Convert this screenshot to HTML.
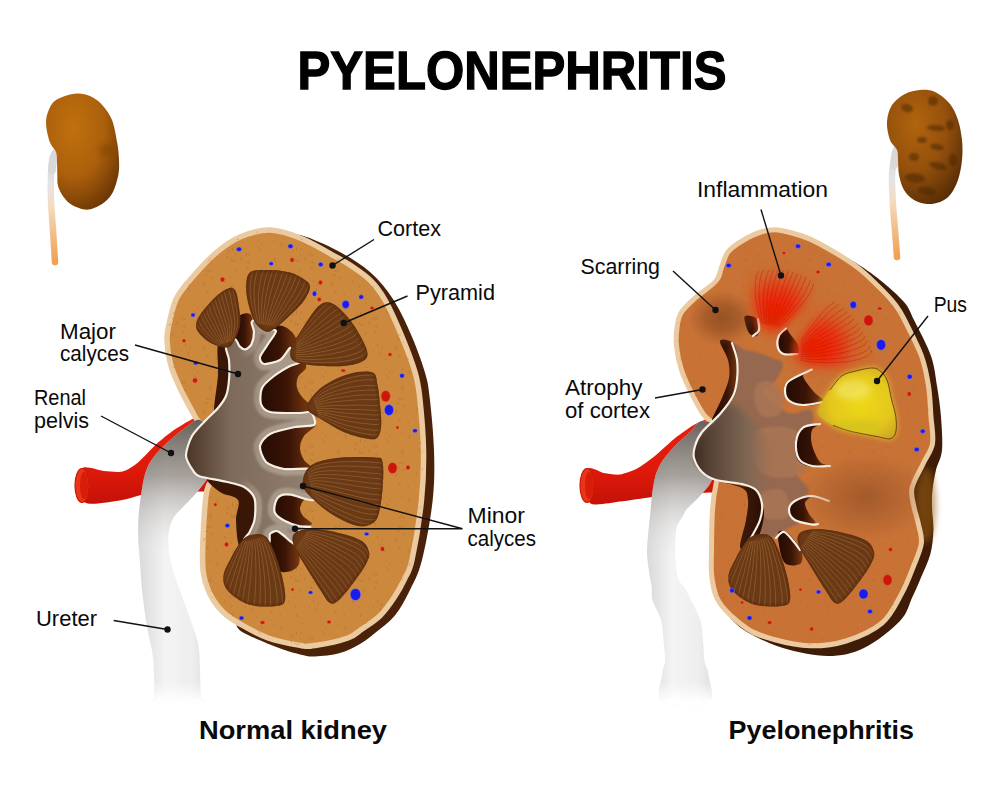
<!DOCTYPE html><html><head><meta charset="utf-8"><style>html,body{margin:0;padding:0;background:#fff}body{width:1000px;height:808px;overflow:hidden}svg{display:block}text{font-family:"Liberation Sans",sans-serif}</style></head><body>
<svg width="1000" height="808" viewBox="0 0 1000 808">
<defs>
<radialGradient id="smallk" cx="0.38" cy="0.3" r="0.75"><stop offset="0" stop-color="#c0700e"/><stop offset="0.55" stop-color="#ac600c"/><stop offset="1" stop-color="#6e3806"/></radialGradient>
<radialGradient id="smallk2" cx="0.38" cy="0.3" r="0.75"><stop offset="0" stop-color="#b0640c"/><stop offset="0.55" stop-color="#94500c"/><stop offset="1" stop-color="#5a2e06"/></radialGradient>
<linearGradient id="smallu" x1="0" y1="0" x2="0" y2="1"><stop offset="0" stop-color="#d0d0d0"/><stop offset="0.3" stop-color="#e4e4e4"/><stop offset="0.5" stop-color="#f4dcc0"/><stop offset="1" stop-color="#f0a050"/></linearGradient>
<linearGradient id="uret" x1="0" y1="0" x2="1" y2="0"><stop offset="0" stop-color="#d8d8d8"/><stop offset="0.35" stop-color="#f4f4f4"/><stop offset="0.7" stop-color="#eeeeee"/><stop offset="1" stop-color="#d6d6d6"/></linearGradient>
<linearGradient id="uretv" gradientUnits="userSpaceOnUse" x1="0" y1="420" x2="0" y2="702"><stop offset="0" stop-color="#5a5048" stop-opacity="0.9"/><stop offset="0.2" stop-color="#857d76" stop-opacity="0.68"/><stop offset="0.33" stop-color="#b4b0ac" stop-opacity="0.36"/><stop offset="0.52" stop-color="#ffffff" stop-opacity="0"/><stop offset="0.93" stop-color="#ffffff" stop-opacity="0"/><stop offset="1" stop-color="#ffffff" stop-opacity="1"/></linearGradient>
<linearGradient id="art" x1="0" y1="0" x2="0" y2="1"><stop offset="0" stop-color="#e82010"/><stop offset="0.6" stop-color="#e01a0a"/><stop offset="1" stop-color="#c41208"/></linearGradient>
<linearGradient id="tree" x1="0" y1="0" x2="1" y2="0"><stop offset="0" stop-color="#4a3426"/><stop offset="0.35" stop-color="#7e6a5a"/><stop offset="1" stop-color="#938070"/></linearGradient>
<linearGradient id="treeR" x1="0" y1="0" x2="1" y2="0"><stop offset="0" stop-color="#4a3020"/><stop offset="0.3" stop-color="#8a5a3a"/><stop offset="1" stop-color="#b06a3c"/></linearGradient>
<linearGradient id="sin" x1="0" y1="0" x2="1" y2="0"><stop offset="0" stop-color="#220a02"/><stop offset="0.55" stop-color="#3a1406"/><stop offset="1" stop-color="#7a3a12"/></linearGradient>
<radialGradient id="infl" cx="0.5" cy="0.5" r="0.5"><stop offset="0" stop-color="#f02a08"/><stop offset="0.55" stop-color="#ec3410" stop-opacity="0.9"/><stop offset="1" stop-color="#d85a20" stop-opacity="0"/></radialGradient>
<radialGradient id="scar" cx="0.5" cy="0.5" r="0.5"><stop offset="0" stop-color="#8a4a20" stop-opacity="0.8"/><stop offset="0.5" stop-color="#8e4c20" stop-opacity="0.55"/><stop offset="1" stop-color="#9a5424" stop-opacity="0"/></radialGradient>
<radialGradient id="atro" cx="0.5" cy="0.5" r="0.5"><stop offset="0" stop-color="#9a5428" stop-opacity="0.8"/><stop offset="1" stop-color="#9a5428" stop-opacity="0"/></radialGradient>
<radialGradient id="pus" cx="0.55" cy="0.5" r="0.65"><stop offset="0" stop-color="#eed818"/><stop offset="0.6" stop-color="#e4c81c"/><stop offset="1" stop-color="#c8a028"/></radialGradient>
<linearGradient id="redge" x1="0" y1="0" x2="1" y2="0"><stop offset="0" stop-color="#3a1a08"/><stop offset="0.6" stop-color="#6a3a10"/><stop offset="1" stop-color="#3a1a06"/></linearGradient>
<filter id="blur3" x="-50%" y="-50%" width="200%" height="200%"><feGaussianBlur stdDeviation="3"/></filter>
<filter id="blur6" x="-50%" y="-50%" width="200%" height="200%"><feGaussianBlur stdDeviation="6"/></filter>
<filter id="blur1" x="-20%" y="-20%" width="140%" height="140%"><feGaussianBlur stdDeviation="1"/></filter>
<linearGradient id="pelR" x1="0" y1="0" x2="1" y2="0"><stop offset="0" stop-color="#34261c"/><stop offset="0.35" stop-color="#5e4a3c"/><stop offset="0.7" stop-color="#7e6654"/><stop offset="1" stop-color="#8a6c56" stop-opacity="0"/></linearGradient>
<linearGradient id="sinv" x1="0" y1="0" x2="1" y2="0"><stop offset="0" stop-color="#5a2a0c"/><stop offset="1" stop-color="#2a0e04"/></linearGradient>
<linearGradient id="band" gradientUnits="userSpaceOnUse" x1="190" y1="0" x2="330" y2="0"><stop offset="0" stop-color="#a89888" stop-opacity="0"/><stop offset="0.35" stop-color="#a89888" stop-opacity="0"/><stop offset="0.5" stop-color="#a99a8a" stop-opacity="0.9"/><stop offset="1" stop-color="#ab9c8c" stop-opacity="1"/></linearGradient>
<pattern id="speck" patternUnits="userSpaceOnUse" width="64" height="64"><g stroke="#8a4e1c" stroke-width="0.8" stroke-linecap="round" opacity="0.35"><line x1="15.2" y1="34.8" x2="16.1" y2="36.8"/><line x1="40.0" y1="4.2" x2="42.6" y2="4.3"/><line x1="16.6" y1="15.0" x2="14.6" y2="15.0"/><line x1="53.5" y1="30.5" x2="52.9" y2="31.8"/><line x1="40.6" y1="55.6" x2="40.5" y2="57.9"/><line x1="43.0" y1="4.1" x2="41.4" y2="5.6"/><line x1="19.3" y1="2.0" x2="17.5" y2="2.8"/><line x1="46.0" y1="56.2" x2="44.3" y2="58.3"/><line x1="25.3" y1="51.3" x2="25.7" y2="53.9"/><line x1="56.2" y1="6.2" x2="57.7" y2="6.9"/><line x1="61.8" y1="27.9" x2="61.1" y2="29.5"/><line x1="32.5" y1="24.7" x2="33.4" y2="26.6"/><line x1="37.4" y1="57.9" x2="35.9" y2="60.1"/><line x1="54.8" y1="63.4" x2="54.1" y2="64.7"/><line x1="55.1" y1="61.7" x2="53.1" y2="62.4"/><line x1="45.7" y1="13.5" x2="43.9" y2="14.6"/><line x1="18.2" y1="4.1" x2="15.7" y2="5.3"/><line x1="5.7" y1="51.2" x2="6.1" y2="52.6"/><line x1="18.8" y1="49.2" x2="17.6" y2="49.7"/><line x1="39.3" y1="2.9" x2="38.2" y2="4.2"/><line x1="56.4" y1="62.8" x2="56.3" y2="65.6"/><line x1="19.8" y1="4.9" x2="19.4" y2="6.1"/><line x1="12.6" y1="26.1" x2="12.1" y2="27.5"/><line x1="2.7" y1="55.5" x2="4.2" y2="57.8"/><line x1="57.4" y1="24.2" x2="57.6" y2="26.2"/><line x1="41.2" y1="38.1" x2="40.8" y2="40.3"/><line x1="60.2" y1="32.4" x2="60.7" y2="34.7"/><line x1="15.2" y1="19.3" x2="13.2" y2="19.4"/><line x1="35.1" y1="0.7" x2="35.7" y2="2.8"/><line x1="1.3" y1="39.4" x2="0.8" y2="40.6"/><line x1="40.1" y1="29.8" x2="39.2" y2="31.3"/><line x1="45.2" y1="47.2" x2="46.5" y2="47.3"/><line x1="43.3" y1="61.7" x2="44.6" y2="63.0"/><line x1="37.9" y1="20.5" x2="38.6" y2="22.0"/><line x1="23.6" y1="38.1" x2="24.7" y2="39.6"/><line x1="49.4" y1="1.7" x2="48.9" y2="4.0"/><line x1="19.8" y1="14.2" x2="18.6" y2="15.2"/><line x1="12.0" y1="27.9" x2="11.2" y2="29.0"/><line x1="20.6" y1="21.4" x2="19.0" y2="22.3"/><line x1="54.8" y1="10.8" x2="55.9" y2="12.8"/></g></pattern>
</defs>
<text x="297.5" y="88.8" font-size="54.5" font-weight="bold" fill="#000" stroke="#000" stroke-width="1.3" textLength="429" lengthAdjust="spacingAndGlyphs">PYELONEPHRITIS</text>
<path d="M58.0,150.0 C57.2,151.3 54.2,153.8 53.0,158.0 C51.8,162.2 51.3,168.0 51.0,175.0 C50.7,182.0 50.7,190.8 51.0,200.0 C51.3,209.2 52.3,219.7 53.0,230.0 C53.7,240.3 54.7,256.7 55.0,262.0" stroke="url(#smallu)" stroke-width="6.5" fill="none" stroke-linecap="round"/>
<path d="M60.0,148.0 C59.0,149.3 55.3,152.3 54.0,156.0 C52.7,159.7 52.3,167.7 52.0,170.0" stroke="#d8d8d8" stroke-width="8" fill="none" stroke-linecap="round"/>
<path d="M74.8,93.7 C80.5,93.0 85.4,94.1 90.0,96.0 C94.6,97.9 98.5,100.9 102.2,104.9 C105.9,108.9 109.5,113.8 112.0,120.0 C114.5,126.2 115.9,135.6 117.1,142.3 C118.3,149.0 118.8,154.6 119.0,160.0 C119.2,165.4 119.4,169.3 118.4,174.6 C117.4,179.9 115.3,187.4 113.0,192.0 C110.7,196.6 107.9,199.3 104.7,202.0 C101.5,204.7 97.3,206.8 94.0,208.0 C90.7,209.2 88.4,210.0 84.7,209.5 C81.0,209.0 75.5,207.1 72.0,205.0 C68.5,202.9 65.9,200.2 63.6,197.0 C61.3,193.8 59.0,189.7 58.0,186.0 C57.0,182.3 57.5,178.6 57.3,174.6 C57.1,170.6 57.2,165.7 57.0,162.0 C56.8,158.3 57.3,155.5 56.1,152.2 C54.9,148.9 51.6,146.9 49.9,142.3 C48.2,137.7 46.4,129.8 46.1,124.8 C45.8,119.8 46.4,116.1 48.0,112.0 C49.6,107.9 51.5,103.0 56.0,100.0 C60.5,97.0 69.1,94.4 74.8,93.7Z" fill="url(#smallk)"/>
<ellipse cx="106" cy="150" rx="8" ry="6" fill="#6a3606" opacity="0.35" filter="url(#blur3)"/>
<path d="M900.0,145.0 C899.2,146.7 896.3,150.0 895.0,155.0 C893.7,160.0 892.3,166.7 892.0,175.0 C891.7,183.3 892.5,195.8 893.0,205.0 C893.5,214.2 894.3,221.3 895.0,230.0 C895.7,238.7 896.7,252.5 897.0,257.0" stroke="url(#smallu)" stroke-width="6.5" fill="none" stroke-linecap="round"/>
<path d="M902.0,143.0 C901.0,144.5 897.3,148.3 896.0,152.0 C894.7,155.7 894.3,162.8 894.0,165.0" stroke="#d8d8d8" stroke-width="8" fill="none" stroke-linecap="round"/>
<path d="M920.0,90.0 C925.0,89.7 930.0,89.7 935.0,92.0 C940.0,94.3 946.2,99.3 950.0,104.0 C953.8,108.7 956.0,114.0 958.0,120.0 C960.0,126.0 961.3,133.3 962.0,140.0 C962.7,146.7 962.7,153.3 962.0,160.0 C961.3,166.7 960.0,174.2 958.0,180.0 C956.0,185.8 953.0,191.3 950.0,195.0 C947.0,198.7 943.8,200.5 940.0,202.0 C936.2,203.5 931.3,204.3 927.0,204.0 C922.7,203.7 917.8,202.3 914.0,200.0 C910.2,197.7 906.5,194.2 904.0,190.0 C901.5,185.8 900.0,180.0 899.0,175.0 C898.0,170.0 898.3,164.2 898.0,160.0 C897.7,155.8 898.3,153.3 897.0,150.0 C895.7,146.7 891.7,144.7 890.0,140.0 C888.3,135.3 886.7,127.8 887.0,122.0 C887.3,116.2 889.0,109.7 892.0,105.0 C895.0,100.3 900.3,96.5 905.0,94.0 C909.7,91.5 915.0,90.3 920.0,90.0Z" fill="url(#smallk2)"/>
<g filter="url(#blur1)">
<ellipse cx="933" cy="101" rx="5" ry="4.5" transform="rotate(0 933 101)" fill="#4a2406" opacity="0.55"/>
<ellipse cx="907" cy="108" rx="6" ry="4" transform="rotate(20 907 108)" fill="#4a2406" opacity="0.55"/>
<ellipse cx="936" cy="128" rx="9" ry="3" transform="rotate(5 936 128)" fill="#4a2406" opacity="0.55"/>
<ellipse cx="937" cy="147" rx="7" ry="3" transform="rotate(10 937 147)" fill="#4a2406" opacity="0.55"/>
<ellipse cx="914" cy="157" rx="5" ry="4" transform="rotate(0 914 157)" fill="#4a2406" opacity="0.55"/>
<ellipse cx="938" cy="166" rx="9" ry="3.5" transform="rotate(15 938 166)" fill="#4a2406" opacity="0.55"/>
<ellipse cx="915" cy="178" rx="10" ry="4.5" transform="rotate(5 915 178)" fill="#4a2406" opacity="0.55"/>
<ellipse cx="927" cy="191" rx="9" ry="4" transform="rotate(10 927 191)" fill="#4a2406" opacity="0.55"/>
<ellipse cx="953" cy="160" rx="4" ry="6" transform="rotate(0 953 160)" fill="#4a2406" opacity="0.55"/>
<ellipse cx="950" cy="125" rx="4" ry="5" transform="rotate(0 950 125)" fill="#4a2406" opacity="0.55"/>
<ellipse cx="922" cy="140" rx="5" ry="3" transform="rotate(0 922 140)" fill="#4a2406" opacity="0.55"/>
</g>
<path d="M82.0,468.5 C84.2,464.8 99.3,470.6 104.0,471.0 C108.7,471.4 118.5,472.5 122.5,471.5 C126.5,470.5 134.1,465.6 138.0,462.4 C141.9,459.2 151.8,448.2 156.0,444.4 C160.2,440.6 169.8,432.9 174.0,430.0 C178.2,427.1 187.6,421.4 192.0,419.2 C196.4,417.0 208.3,410.3 212.0,411.0 C215.7,411.7 222.8,415.8 224.0,425.0 C225.2,434.2 224.2,482.2 222.0,490.0 C219.8,497.8 211.1,491.4 205.0,491.5 C198.9,491.6 177.0,490.7 170.0,491.0 C163.0,491.3 150.6,492.9 145.0,494.0 C139.4,495.1 129.0,499.0 122.0,500.0 C115.0,501.0 89.7,506.2 85.0,502.5 C80.3,498.8 79.8,472.2 82.0,468.5Z" fill="url(#art)"/>
<ellipse cx="82" cy="485.5" rx="7" ry="17" fill="#e83418" stroke="#d01808" stroke-width="1.2"/>
<ellipse cx="84" cy="485.5" rx="4" ry="13.5" fill="#d81c0a"/>
<path d="M285.0,236.0 C287.8,235.9 293.2,233.0 302.0,235.5 C310.8,238.0 326.7,244.9 338.0,251.0 C349.3,257.1 360.7,263.8 370.0,272.0 C379.3,280.2 386.7,289.3 393.6,300.0 C400.5,310.7 406.4,324.0 411.6,336.0 C416.8,348.0 421.8,361.8 424.8,372.0 C427.8,382.2 428.1,384.0 429.6,397.0 C431.1,410.0 433.5,432.8 434.0,450.0 C434.5,467.2 434.7,481.7 432.7,500.0 C430.7,518.3 425.9,544.8 422.0,560.0 C418.1,575.2 414.1,581.7 409.5,591.0 C404.9,600.3 400.4,608.7 394.7,615.7 C388.9,622.7 380.8,628.3 375.0,633.0 C369.2,637.7 365.8,640.7 360.0,644.0 C354.2,647.3 347.5,650.9 340.0,653.0 C332.5,655.1 321.7,656.2 315.0,656.4 C308.3,656.6 306.0,655.8 300.0,654.4 C294.0,653.0 288.5,651.7 279.0,648.0 C269.5,644.3 250.2,636.4 243.0,632.4 C235.8,628.4 237.2,625.4 236.0,624.0 L300,400Z" fill="#4a220a"/>
<path d="M270.0,230.0 C280.3,230.3 290.7,234.0 302.0,238.7 C313.3,243.4 330.0,253.6 338.0,258.0 C346.0,262.4 344.7,261.3 350.0,265.0 C355.3,268.7 364.2,274.2 370.0,280.0 C375.8,285.8 379.7,290.7 385.0,300.0 C390.3,309.3 396.7,324.0 401.7,336.0 C406.7,348.0 412.0,361.8 415.0,372.0 C418.0,382.2 418.3,384.0 419.7,397.0 C421.1,410.0 423.2,432.8 423.5,450.0 C423.8,467.2 423.4,481.7 421.5,500.0 C419.6,518.3 414.9,546.7 412.0,560.0 C409.1,573.3 406.9,573.8 404.0,580.0 C401.1,586.2 398.5,591.0 394.5,597.0 C390.5,603.0 385.4,610.4 380.0,615.7 C374.6,621.0 367.3,625.3 362.0,629.0 C356.7,632.7 355.8,635.2 348.0,638.0 C340.2,640.8 323.0,644.3 315.0,645.5 C307.0,646.7 307.8,646.6 300.0,645.4 C292.2,644.1 278.0,641.6 268.0,638.0 C258.0,634.4 247.5,628.3 240.0,624.0 C232.5,619.7 228.0,617.0 223.0,612.0 C218.0,607.0 213.3,601.0 210.0,594.0 C206.7,587.0 204.1,581.0 203.0,570.0 C201.9,559.0 202.8,541.3 203.5,528.0 C204.2,514.7 204.9,499.7 207.0,490.0 C209.1,480.3 214.8,478.3 216.0,470.0 C217.2,461.7 217.0,448.2 214.0,440.0 C211.0,431.8 201.6,425.7 198.0,421.0 C194.4,416.3 195.6,417.5 192.6,412.0 C189.6,406.5 183.7,396.0 180.0,388.0 C176.3,380.0 172.7,372.0 170.5,364.0 C168.3,356.0 167.2,347.0 167.0,340.0 C166.8,333.0 167.9,329.0 169.5,322.0 C171.1,315.0 172.7,305.7 176.7,298.0 C180.7,290.3 186.8,283.7 193.5,276.0 C200.2,268.3 209.2,258.5 217.0,252.0 C224.8,245.5 231.2,240.7 240.0,237.0 C248.8,233.3 259.7,229.7 270.0,230.0Z" fill="#cc883c" stroke="#eccaa0" stroke-width="5.5"/>
<path d="M270.0,230.0 C280.3,230.3 290.7,234.0 302.0,238.7 C313.3,243.4 330.0,253.6 338.0,258.0 C346.0,262.4 344.7,261.3 350.0,265.0 C355.3,268.7 364.2,274.2 370.0,280.0 C375.8,285.8 379.7,290.7 385.0,300.0 C390.3,309.3 396.7,324.0 401.7,336.0 C406.7,348.0 412.0,361.8 415.0,372.0 C418.0,382.2 418.3,384.0 419.7,397.0 C421.1,410.0 423.2,432.8 423.5,450.0 C423.8,467.2 423.4,481.7 421.5,500.0 C419.6,518.3 414.9,546.7 412.0,560.0 C409.1,573.3 406.9,573.8 404.0,580.0 C401.1,586.2 398.5,591.0 394.5,597.0 C390.5,603.0 385.4,610.4 380.0,615.7 C374.6,621.0 367.3,625.3 362.0,629.0 C356.7,632.7 355.8,635.2 348.0,638.0 C340.2,640.8 323.0,644.3 315.0,645.5 C307.0,646.7 307.8,646.6 300.0,645.4 C292.2,644.1 278.0,641.6 268.0,638.0 C258.0,634.4 247.5,628.3 240.0,624.0 C232.5,619.7 228.0,617.0 223.0,612.0 C218.0,607.0 213.3,601.0 210.0,594.0 C206.7,587.0 204.1,581.0 203.0,570.0 C201.9,559.0 202.8,541.3 203.5,528.0 C204.2,514.7 204.9,499.7 207.0,490.0 C209.1,480.3 214.8,478.3 216.0,470.0 C217.2,461.7 217.0,448.2 214.0,440.0 C211.0,431.8 201.6,425.7 198.0,421.0 C194.4,416.3 195.6,417.5 192.6,412.0 C189.6,406.5 183.7,396.0 180.0,388.0 C176.3,380.0 172.7,372.0 170.5,364.0 C168.3,356.0 167.2,347.0 167.0,340.0 C166.8,333.0 167.9,329.0 169.5,322.0 C171.1,315.0 172.7,305.7 176.7,298.0 C180.7,290.3 186.8,283.7 193.5,276.0 C200.2,268.3 209.2,258.5 217.0,252.0 C224.8,245.5 231.2,240.7 240.0,237.0 C248.8,233.3 259.7,229.7 270.0,230.0Z" fill="url(#speck)"/>
<path d="M185.0,428.0 C180.2,431.3 172.3,438.1 168.0,442.0 C163.7,445.9 159.1,450.2 156.0,454.0 C152.9,457.8 149.6,462.5 147.6,467.0 C145.6,471.5 144.1,476.9 142.8,484.0 C141.5,491.1 139.5,505.9 138.8,514.0 C138.1,522.1 138.0,530.8 138.2,538.0 C138.4,545.2 139.4,554.2 140.0,562.0 C140.6,569.8 140.9,580.2 142.0,590.0 C143.1,599.8 145.3,617.0 147.0,627.0 C148.7,637.0 151.9,647.0 153.0,657.0 C154.1,667.0 154.3,687.2 154.6,694.0 C154.9,700.8 148.1,700.8 155.0,702.0 C161.9,703.2 193.8,703.2 200.6,702.0 C207.4,700.8 200.8,702.0 200.6,694.0 C200.4,686.0 200.1,659.0 199.0,649.0 C197.9,639.0 195.9,635.9 193.0,627.0 C190.1,618.1 182.9,598.9 179.8,590.0 C176.7,581.1 174.1,574.0 172.4,568.0 C170.8,562.0 169.3,555.4 168.8,550.0 C168.3,544.6 168.1,536.9 168.8,532.0 C169.5,527.1 171.3,521.6 173.6,517.6 C175.9,513.6 180.6,509.7 184.4,505.6 C188.2,501.5 194.7,495.3 198.8,490.0 C202.9,484.7 209.6,477.5 212.0,470.0 C214.4,462.5 216.8,447.5 215.0,440.0 C213.2,432.5 204.5,421.8 200.0,420.0 C195.5,418.2 189.8,424.7 185.0,428.0Z" fill="url(#uret)"/><path d="M185.0,428.0 C180.2,431.3 172.3,438.1 168.0,442.0 C163.7,445.9 159.1,450.2 156.0,454.0 C152.9,457.8 149.6,462.5 147.6,467.0 C145.6,471.5 144.1,476.9 142.8,484.0 C141.5,491.1 139.5,505.9 138.8,514.0 C138.1,522.1 138.0,530.8 138.2,538.0 C138.4,545.2 139.4,554.2 140.0,562.0 C140.6,569.8 140.9,580.2 142.0,590.0 C143.1,599.8 145.3,617.0 147.0,627.0 C148.7,637.0 151.9,647.0 153.0,657.0 C154.1,667.0 154.3,687.2 154.6,694.0 C154.9,700.8 148.1,700.8 155.0,702.0 C161.9,703.2 193.8,703.2 200.6,702.0 C207.4,700.8 200.8,702.0 200.6,694.0 C200.4,686.0 200.1,659.0 199.0,649.0 C197.9,639.0 195.9,635.9 193.0,627.0 C190.1,618.1 182.9,598.9 179.8,590.0 C176.7,581.1 174.1,574.0 172.4,568.0 C170.8,562.0 169.3,555.4 168.8,550.0 C168.3,544.6 168.1,536.9 168.8,532.0 C169.5,527.1 171.3,521.6 173.6,517.6 C175.9,513.6 180.6,509.7 184.4,505.6 C188.2,501.5 194.7,495.3 198.8,490.0 C202.9,484.7 209.6,477.5 212.0,470.0 C214.4,462.5 216.8,447.5 215.0,440.0 C213.2,432.5 204.5,421.8 200.0,420.0 C195.5,418.2 189.8,424.7 185.0,428.0Z" fill="url(#uretv)"/>
<path d="M218.0,345.0 C219.7,340.2 226.2,336.8 228.0,346.0 C229.8,355.2 230.7,388.0 229.0,400.0 C227.3,412.0 220.5,416.3 218.0,418.0 C215.5,419.7 214.0,417.2 214.0,410.0 C214.0,402.8 217.3,385.8 218.0,375.0 C218.7,364.2 216.3,349.8 218.0,345.0Z" fill="#3a1606"/>
<path d="M208.0,478.0 C213.0,477.0 241.7,480.7 250.0,486.0 C258.3,491.3 257.3,500.2 258.0,510.0 C258.7,519.8 257.0,538.7 254.0,545.0 C251.0,551.3 243.0,552.2 240.0,548.0 C237.0,543.8 236.3,528.0 236.0,520.0 C235.7,512.0 240.7,504.7 238.0,500.0 C235.3,495.3 225.0,495.7 220.0,492.0 C215.0,488.3 203.0,479.0 208.0,478.0Z" fill="#3a1606"/>
<path d="M236.0,318.0 C238.8,314.7 247.0,311.7 250.0,314.0 C253.0,316.3 253.8,326.0 254.0,332.0 C254.2,338.0 253.3,347.0 251.0,350.0 C248.7,353.0 243.0,352.7 240.0,350.0 C237.0,347.3 233.7,339.3 233.0,334.0 C232.3,328.7 233.2,321.3 236.0,318.0Z" fill="url(#sin)"/>
<path d="M276.0,326.0 C281.0,323.8 288.3,328.0 292.0,332.0 C295.7,336.0 299.7,344.3 298.0,350.0 C296.3,355.7 288.7,364.0 282.0,366.0 C275.3,368.0 261.3,365.5 258.0,362.0 C254.7,358.5 259.0,351.0 262.0,345.0 C265.0,339.0 271.0,328.2 276.0,326.0Z" fill="url(#sin)"/>
<path d="M302.0,362.0 C297.7,362.5 286.7,367.0 280.0,371.0 C273.3,375.0 265.8,380.8 262.0,386.0 C258.2,391.2 256.3,397.3 257.0,402.0 C257.7,406.7 258.8,411.7 266.0,414.0 C273.2,416.3 292.7,417.3 300.0,416.0 C307.3,414.7 309.5,409.0 310.0,406.0 C310.5,403.0 305.2,401.0 303.0,398.0 C300.8,395.0 297.8,391.5 297.0,388.0 C296.2,384.5 296.5,380.3 298.0,377.0 C299.5,373.7 305.3,370.5 306.0,368.0 C306.7,365.5 306.3,361.5 302.0,362.0Z" fill="url(#sin)"/>
<path d="M316.0,424.0 C313.7,422.0 298.3,422.7 290.0,424.0 C281.7,425.3 271.7,428.0 266.0,432.0 C260.3,436.0 256.3,442.7 256.0,448.0 C255.7,453.3 259.3,460.2 264.0,464.0 C268.7,467.8 275.7,469.8 284.0,471.0 C292.3,472.2 310.7,472.8 314.0,471.0 C317.3,469.2 306.3,463.8 304.0,460.0 C301.7,456.2 300.0,452.0 300.0,448.0 C300.0,444.0 301.3,440.0 304.0,436.0 C306.7,432.0 318.3,426.0 316.0,424.0Z" fill="url(#sin)"/>
<path d="M312.0,494.0 C309.7,492.8 296.3,491.7 290.0,493.0 C283.7,494.3 277.3,498.5 274.0,502.0 C270.7,505.5 269.0,510.3 270.0,514.0 C271.0,517.7 275.3,522.0 280.0,524.0 C284.7,526.0 292.7,526.0 298.0,526.0 C303.3,526.0 311.2,525.7 312.0,524.0 C312.8,522.3 305.0,518.7 303.0,516.0 C301.0,513.3 299.8,510.7 300.0,508.0 C300.2,505.3 302.0,502.3 304.0,500.0 C306.0,497.7 314.3,495.2 312.0,494.0Z" fill="url(#sin)"/>
<path d="M268.0,540.0 C269.3,534.7 272.7,529.3 276.0,528.0 C279.3,526.7 284.3,528.7 288.0,532.0 C291.7,535.3 296.3,542.3 298.0,548.0 C299.7,553.7 300.7,562.0 298.0,566.0 C295.3,570.0 287.0,573.0 282.0,572.0 C277.0,571.0 270.3,565.3 268.0,560.0 C265.7,554.7 266.7,545.3 268.0,540.0Z" fill="url(#sin)"/>
<clipPath id="treeclipL"><path d="M226.0,347.0 C226.8,344.2 233.0,339.1 234.8,339.0 C236.6,338.9 238.2,345.0 239.6,346.4 C241.0,347.8 244.0,349.7 245.6,349.4 C247.2,349.1 250.5,346.3 251.6,344.0 C252.7,341.7 254.0,334.9 254.0,332.0 C254.0,329.1 251.3,324.0 251.6,322.4 C251.9,320.8 254.2,319.3 256.0,320.0 C257.8,320.7 262.3,326.5 265.0,328.0 C267.7,329.5 275.6,328.9 276.0,331.0 C276.4,333.1 270.1,340.5 268.0,344.0 C265.9,347.5 260.5,354.3 260.0,357.0 C259.5,359.7 261.3,363.6 264.0,364.0 C266.7,364.4 276.5,362.1 280.0,360.0 C283.5,357.9 288.1,349.1 290.0,348.0 C291.9,346.9 292.7,350.1 294.0,352.0 C295.3,353.9 300.5,360.1 300.0,362.0 C299.5,363.9 293.5,364.1 290.0,366.0 C286.5,367.9 277.7,373.1 274.0,376.0 C270.3,378.9 263.7,384.3 262.0,388.0 C260.3,391.7 259.9,400.8 261.0,404.0 C262.1,407.2 264.8,410.8 270.0,412.0 C275.2,413.2 294.7,413.0 300.0,413.0 C305.3,413.0 308.1,411.3 310.0,412.0 C311.9,412.7 313.5,416.3 314.0,418.0 C314.5,419.7 316.5,423.8 314.0,425.0 C311.5,426.2 300.9,425.8 295.0,427.0 C289.1,428.2 274.7,431.5 270.0,434.0 C265.3,436.5 260.5,442.3 260.0,446.0 C259.5,449.7 262.8,458.9 266.0,462.0 C269.2,465.1 277.9,468.1 284.0,469.0 C290.1,469.9 308.5,467.5 312.0,469.0 C315.5,470.5 309.7,475.9 310.0,480.0 C310.3,484.1 316.5,498.0 314.0,500.0 C311.5,502.0 295.5,495.3 291.0,494.7 C286.5,494.1 282.7,494.4 280.6,495.4 C278.5,496.4 276.1,500.2 275.4,502.5 C274.7,504.8 273.8,510.6 275.0,513.0 C276.2,515.4 281.3,519.0 284.5,520.7 C287.7,522.4 295.3,525.2 298.8,526.0 C302.3,526.8 310.5,526.3 310.5,527.0 C310.5,527.7 300.9,528.7 299.0,531.0 C297.1,533.3 297.2,542.7 296.0,544.0 C294.8,545.3 291.7,542.2 290.0,541.0 C288.3,539.8 284.8,536.3 283.0,535.0 C281.2,533.7 278.4,531.1 276.7,531.0 C275.0,530.9 271.0,532.4 270.0,534.0 C269.0,535.6 270.6,542.1 269.0,543.0 C267.4,543.9 261.3,541.4 258.0,541.0 C254.7,540.6 245.3,541.1 244.2,540.0 C243.1,538.9 248.0,535.1 249.4,532.4 C250.8,529.7 253.9,523.9 254.6,519.4 C255.3,514.9 256.0,502.9 254.6,498.6 C253.2,494.3 248.0,489.3 244.2,487.0 C240.4,484.7 231.9,483.1 226.0,481.7 C220.1,480.3 204.3,477.8 200.0,476.5 C195.7,475.2 195.9,474.7 194.0,472.0 C192.1,469.3 186.3,460.8 186.0,456.0 C185.7,451.2 189.3,440.8 192.0,436.0 C194.7,431.2 202.5,423.7 206.0,420.0 C209.5,416.3 215.3,411.2 218.0,408.0 C220.7,404.8 224.5,399.7 226.0,396.0 C227.5,392.3 228.6,384.8 229.0,380.0 C229.4,375.2 229.4,364.4 229.0,360.0 C228.6,355.6 225.2,349.8 226.0,347.0Z"/></clipPath>
<path d="M226.0,347.0 C226.8,344.2 233.0,339.1 234.8,339.0 C236.6,338.9 238.2,345.0 239.6,346.4 C241.0,347.8 244.0,349.7 245.6,349.4 C247.2,349.1 250.5,346.3 251.6,344.0 C252.7,341.7 254.0,334.9 254.0,332.0 C254.0,329.1 251.3,324.0 251.6,322.4 C251.9,320.8 254.2,319.3 256.0,320.0 C257.8,320.7 262.3,326.5 265.0,328.0 C267.7,329.5 275.6,328.9 276.0,331.0 C276.4,333.1 270.1,340.5 268.0,344.0 C265.9,347.5 260.5,354.3 260.0,357.0 C259.5,359.7 261.3,363.6 264.0,364.0 C266.7,364.4 276.5,362.1 280.0,360.0 C283.5,357.9 288.1,349.1 290.0,348.0 C291.9,346.9 292.7,350.1 294.0,352.0 C295.3,353.9 300.5,360.1 300.0,362.0 C299.5,363.9 293.5,364.1 290.0,366.0 C286.5,367.9 277.7,373.1 274.0,376.0 C270.3,378.9 263.7,384.3 262.0,388.0 C260.3,391.7 259.9,400.8 261.0,404.0 C262.1,407.2 264.8,410.8 270.0,412.0 C275.2,413.2 294.7,413.0 300.0,413.0 C305.3,413.0 308.1,411.3 310.0,412.0 C311.9,412.7 313.5,416.3 314.0,418.0 C314.5,419.7 316.5,423.8 314.0,425.0 C311.5,426.2 300.9,425.8 295.0,427.0 C289.1,428.2 274.7,431.5 270.0,434.0 C265.3,436.5 260.5,442.3 260.0,446.0 C259.5,449.7 262.8,458.9 266.0,462.0 C269.2,465.1 277.9,468.1 284.0,469.0 C290.1,469.9 308.5,467.5 312.0,469.0 C315.5,470.5 309.7,475.9 310.0,480.0 C310.3,484.1 316.5,498.0 314.0,500.0 C311.5,502.0 295.5,495.3 291.0,494.7 C286.5,494.1 282.7,494.4 280.6,495.4 C278.5,496.4 276.1,500.2 275.4,502.5 C274.7,504.8 273.8,510.6 275.0,513.0 C276.2,515.4 281.3,519.0 284.5,520.7 C287.7,522.4 295.3,525.2 298.8,526.0 C302.3,526.8 310.5,526.3 310.5,527.0 C310.5,527.7 300.9,528.7 299.0,531.0 C297.1,533.3 297.2,542.7 296.0,544.0 C294.8,545.3 291.7,542.2 290.0,541.0 C288.3,539.8 284.8,536.3 283.0,535.0 C281.2,533.7 278.4,531.1 276.7,531.0 C275.0,530.9 271.0,532.4 270.0,534.0 C269.0,535.6 270.6,542.1 269.0,543.0 C267.4,543.9 261.3,541.4 258.0,541.0 C254.7,540.6 245.3,541.1 244.2,540.0 C243.1,538.9 248.0,535.1 249.4,532.4 C250.8,529.7 253.9,523.9 254.6,519.4 C255.3,514.9 256.0,502.9 254.6,498.6 C253.2,494.3 248.0,489.3 244.2,487.0 C240.4,484.7 231.9,483.1 226.0,481.7 C220.1,480.3 204.3,477.8 200.0,476.5 C195.7,475.2 195.9,474.7 194.0,472.0 C192.1,469.3 186.3,460.8 186.0,456.0 C185.7,451.2 189.3,440.8 192.0,436.0 C194.7,431.2 202.5,423.7 206.0,420.0 C209.5,416.3 215.3,411.2 218.0,408.0 C220.7,404.8 224.5,399.7 226.0,396.0 C227.5,392.3 228.6,384.8 229.0,380.0 C229.4,375.2 229.4,364.4 229.0,360.0 C228.6,355.6 225.2,349.8 226.0,347.0Z" fill="url(#tree)"/>
<path d="M226.0,347.0 C226.8,344.2 233.0,339.1 234.8,339.0 C236.6,338.9 238.2,345.0 239.6,346.4 C241.0,347.8 244.0,349.7 245.6,349.4 C247.2,349.1 250.5,346.3 251.6,344.0 C252.7,341.7 254.0,334.9 254.0,332.0 C254.0,329.1 251.3,324.0 251.6,322.4 C251.9,320.8 254.2,319.3 256.0,320.0 C257.8,320.7 262.3,326.5 265.0,328.0 C267.7,329.5 275.6,328.9 276.0,331.0 C276.4,333.1 270.1,340.5 268.0,344.0 C265.9,347.5 260.5,354.3 260.0,357.0 C259.5,359.7 261.3,363.6 264.0,364.0 C266.7,364.4 276.5,362.1 280.0,360.0 C283.5,357.9 288.1,349.1 290.0,348.0 C291.9,346.9 292.7,350.1 294.0,352.0 C295.3,353.9 300.5,360.1 300.0,362.0 C299.5,363.9 293.5,364.1 290.0,366.0 C286.5,367.9 277.7,373.1 274.0,376.0 C270.3,378.9 263.7,384.3 262.0,388.0 C260.3,391.7 259.9,400.8 261.0,404.0 C262.1,407.2 264.8,410.8 270.0,412.0 C275.2,413.2 294.7,413.0 300.0,413.0 C305.3,413.0 308.1,411.3 310.0,412.0 C311.9,412.7 313.5,416.3 314.0,418.0 C314.5,419.7 316.5,423.8 314.0,425.0 C311.5,426.2 300.9,425.8 295.0,427.0 C289.1,428.2 274.7,431.5 270.0,434.0 C265.3,436.5 260.5,442.3 260.0,446.0 C259.5,449.7 262.8,458.9 266.0,462.0 C269.2,465.1 277.9,468.1 284.0,469.0 C290.1,469.9 308.5,467.5 312.0,469.0 C315.5,470.5 309.7,475.9 310.0,480.0 C310.3,484.1 316.5,498.0 314.0,500.0 C311.5,502.0 295.5,495.3 291.0,494.7 C286.5,494.1 282.7,494.4 280.6,495.4 C278.5,496.4 276.1,500.2 275.4,502.5 C274.7,504.8 273.8,510.6 275.0,513.0 C276.2,515.4 281.3,519.0 284.5,520.7 C287.7,522.4 295.3,525.2 298.8,526.0 C302.3,526.8 310.5,526.3 310.5,527.0 C310.5,527.7 300.9,528.7 299.0,531.0 C297.1,533.3 297.2,542.7 296.0,544.0 C294.8,545.3 291.7,542.2 290.0,541.0 C288.3,539.8 284.8,536.3 283.0,535.0 C281.2,533.7 278.4,531.1 276.7,531.0 C275.0,530.9 271.0,532.4 270.0,534.0 C269.0,535.6 270.6,542.1 269.0,543.0 C267.4,543.9 261.3,541.4 258.0,541.0 C254.7,540.6 245.3,541.1 244.2,540.0 C243.1,538.9 248.0,535.1 249.4,532.4 C250.8,529.7 253.9,523.9 254.6,519.4 C255.3,514.9 256.0,502.9 254.6,498.6 C253.2,494.3 248.0,489.3 244.2,487.0 C240.4,484.7 231.9,483.1 226.0,481.7 C220.1,480.3 204.3,477.8 200.0,476.5 C195.7,475.2 195.9,474.7 194.0,472.0 C192.1,469.3 186.3,460.8 186.0,456.0 C185.7,451.2 189.3,440.8 192.0,436.0 C194.7,431.2 202.5,423.7 206.0,420.0 C209.5,416.3 215.3,411.2 218.0,408.0 C220.7,404.8 224.5,399.7 226.0,396.0 C227.5,392.3 228.6,384.8 229.0,380.0 C229.4,375.2 229.4,364.4 229.0,360.0 C228.6,355.6 225.2,349.8 226.0,347.0Z" fill="none" stroke="url(#band)" stroke-width="13" clip-path="url(#treeclipL)" filter="url(#blur1)"/>
<path d="M226.0,347.0 C226.8,344.2 233.0,339.1 234.8,339.0 C236.6,338.9 238.2,345.0 239.6,346.4 C241.0,347.8 244.0,349.7 245.6,349.4 C247.2,349.1 250.5,346.3 251.6,344.0 C252.7,341.7 254.0,334.9 254.0,332.0 C254.0,329.1 251.3,324.0 251.6,322.4 C251.9,320.8 254.2,319.3 256.0,320.0 C257.8,320.7 262.3,326.5 265.0,328.0 C267.7,329.5 275.6,328.9 276.0,331.0 C276.4,333.1 270.1,340.5 268.0,344.0 C265.9,347.5 260.5,354.3 260.0,357.0 C259.5,359.7 261.3,363.6 264.0,364.0 C266.7,364.4 276.5,362.1 280.0,360.0 C283.5,357.9 288.1,349.1 290.0,348.0 C291.9,346.9 292.7,350.1 294.0,352.0 C295.3,353.9 300.5,360.1 300.0,362.0 C299.5,363.9 293.5,364.1 290.0,366.0 C286.5,367.9 277.7,373.1 274.0,376.0 C270.3,378.9 263.7,384.3 262.0,388.0 C260.3,391.7 259.9,400.8 261.0,404.0 C262.1,407.2 264.8,410.8 270.0,412.0 C275.2,413.2 294.7,413.0 300.0,413.0 C305.3,413.0 308.1,411.3 310.0,412.0 C311.9,412.7 313.5,416.3 314.0,418.0 C314.5,419.7 316.5,423.8 314.0,425.0 C311.5,426.2 300.9,425.8 295.0,427.0 C289.1,428.2 274.7,431.5 270.0,434.0 C265.3,436.5 260.5,442.3 260.0,446.0 C259.5,449.7 262.8,458.9 266.0,462.0 C269.2,465.1 277.9,468.1 284.0,469.0 C290.1,469.9 308.5,467.5 312.0,469.0 C315.5,470.5 309.7,475.9 310.0,480.0 C310.3,484.1 316.5,498.0 314.0,500.0 C311.5,502.0 295.5,495.3 291.0,494.7 C286.5,494.1 282.7,494.4 280.6,495.4 C278.5,496.4 276.1,500.2 275.4,502.5 C274.7,504.8 273.8,510.6 275.0,513.0 C276.2,515.4 281.3,519.0 284.5,520.7 C287.7,522.4 295.3,525.2 298.8,526.0 C302.3,526.8 310.5,526.3 310.5,527.0 C310.5,527.7 300.9,528.7 299.0,531.0 C297.1,533.3 297.2,542.7 296.0,544.0 C294.8,545.3 291.7,542.2 290.0,541.0 C288.3,539.8 284.8,536.3 283.0,535.0 C281.2,533.7 278.4,531.1 276.7,531.0 C275.0,530.9 271.0,532.4 270.0,534.0 C269.0,535.6 270.6,542.1 269.0,543.0 C267.4,543.9 261.3,541.4 258.0,541.0 C254.7,540.6 245.3,541.1 244.2,540.0 C243.1,538.9 248.0,535.1 249.4,532.4 C250.8,529.7 253.9,523.9 254.6,519.4 C255.3,514.9 256.0,502.9 254.6,498.6 C253.2,494.3 248.0,489.3 244.2,487.0 C240.4,484.7 231.9,483.1 226.0,481.7 C220.1,480.3 204.3,477.8 200.0,476.5 C195.7,475.2 195.9,474.7 194.0,472.0 C192.1,469.3 186.3,460.8 186.0,456.0 C185.7,451.2 189.3,440.8 192.0,436.0 C194.7,431.2 202.5,423.7 206.0,420.0 C209.5,416.3 215.3,411.2 218.0,408.0 C220.7,404.8 224.5,399.7 226.0,396.0 C227.5,392.3 228.6,384.8 229.0,380.0 C229.4,375.2 229.4,364.4 229.0,360.0 C228.6,355.6 225.2,349.8 226.0,347.0Z" fill="none" stroke="#f6efe4" stroke-width="2.2"/>
<clipPath id="pyrL0"><path d="M235.0,290.0 C236.9,292.7 237.9,299.2 238.7,305.0 C239.5,310.8 241.0,318.6 240.0,325.0 C239.0,331.4 235.0,339.9 232.5,343.7 C230.0,347.4 228.8,347.7 225.0,347.5 C221.2,347.3 214.4,345.0 210.0,342.5 C205.6,340.0 201.0,335.4 198.7,332.5 C196.4,329.6 196.0,327.9 196.2,325.0 C196.4,322.1 196.9,319.6 200.0,315.0 C203.1,310.4 210.4,301.9 215.0,297.5 C219.6,293.1 224.2,289.9 227.5,288.7 C230.8,287.4 233.1,287.3 235.0,290.0Z"/></clipPath>
<path d="M235.0,290.0 C236.9,292.7 237.9,299.2 238.7,305.0 C239.5,310.8 241.0,318.6 240.0,325.0 C239.0,331.4 235.0,339.9 232.5,343.7 C230.0,347.4 228.8,347.7 225.0,347.5 C221.2,347.3 214.4,345.0 210.0,342.5 C205.6,340.0 201.0,335.4 198.7,332.5 C196.4,329.6 196.0,327.9 196.2,325.0 C196.4,322.1 196.9,319.6 200.0,315.0 C203.1,310.4 210.4,301.9 215.0,297.5 C219.6,293.1 224.2,289.9 227.5,288.7 C230.8,287.4 233.1,287.3 235.0,290.0Z" fill="#6a3915"/>
<g clip-path="url(#pyrL0)" fill="none" stroke="#8a582a" stroke-width="1.0" opacity="1"><polyline points="219.1,345.5 217.9,344.9 216.8,344.3 215.6,343.7 214.4,343.0 213.3,342.3 212.1,341.5 211.0,340.7 209.9,339.8 208.8,338.9 207.7,337.9 206.7,337.0 205.6,335.9 204.6,334.9 203.6,333.8 202.6,332.7 201.7,331.6 200.7,330.5 199.8,329.3 199.0,328.1 198.2,326.8 197.6,325.5 197.2,324.0 197.0,322.6 196.9,321.2 196.6,316.8"/><polyline points="220.0,345.0 218.9,344.3 217.9,343.5 216.8,342.8 215.8,341.9 214.7,341.1 213.6,340.1 212.6,339.2 211.6,338.2 210.5,337.1 209.5,336.0 208.5,334.9 207.5,333.7 206.5,332.6 205.5,331.3 204.5,330.1 203.5,328.9 202.6,327.6 201.7,326.3 200.9,325.0 200.1,323.6 199.4,322.2 198.9,320.6 198.6,319.1 198.4,317.6 197.8,313.0"/><polyline points="221.1,344.5 220.2,343.6 219.3,342.6 218.4,341.7 217.4,340.7 216.5,339.7 215.6,338.6 214.7,337.5 213.8,336.3 212.8,335.1 211.9,333.8 210.9,332.5 210.0,331.2 209.0,329.9 208.1,328.6 207.2,327.2 206.2,325.8 205.3,324.4 204.5,323.0 203.7,321.5 202.9,320.0 202.2,318.4 201.7,316.8 201.4,315.1 201.1,313.5 200.2,308.6"/><polyline points="222.1,344.1 221.3,343.0 220.6,342.0 219.8,340.9 219.0,339.7 218.3,338.6 217.5,337.4 216.7,336.1 215.8,334.8 215.0,333.5 214.1,332.1 213.2,330.7 212.3,329.3 211.4,327.9 210.5,326.4 209.6,324.9 208.7,323.4 207.9,321.9 207.0,320.4 206.2,318.8 205.5,317.2 204.8,315.5 204.3,313.8 203.9,312.1 203.5,310.4 202.3,305.3"/><polyline points="223.1,343.7 222.5,342.5 221.9,341.3 221.3,340.1 220.7,338.8 220.0,337.6 219.4,336.2 218.7,334.9 218.0,333.4 217.2,332.0 216.4,330.5 215.6,329.0 214.7,327.4 213.8,325.9 213.0,324.3 212.1,322.7 211.3,321.1 210.4,319.5 209.6,317.9 208.8,316.2 208.1,314.5 207.4,312.7 206.9,310.9 206.4,309.1 206.0,307.4 204.6,302.1"/><polyline points="224.2,343.3 223.8,342.0 223.3,340.7 222.8,339.3 222.3,338.0 221.8,336.6 221.3,335.1 220.7,333.6 220.1,332.1 219.4,330.5 218.7,328.9 217.9,327.2 217.1,325.6 216.3,323.9 215.5,322.2 214.7,320.5 213.9,318.8 213.1,317.1 212.3,315.4 211.5,313.6 210.8,311.8 210.1,310.0 209.6,308.1 209.0,306.2 208.5,304.4 206.9,298.9"/><polyline points="225.4,342.8 225.1,341.4 224.8,339.9 224.5,338.4 224.2,336.9 223.9,335.3 223.5,333.7 223.0,332.1 222.6,330.4 222.0,328.7 221.4,326.9 220.7,325.1 220.0,323.3 219.3,321.5 218.5,319.7 217.7,317.9 217.0,316.1 216.2,314.2 215.5,312.4 214.8,310.5 214.1,308.6 213.5,306.6 212.9,304.7 212.4,302.7 211.8,300.8 210.0,295.1"/><polyline points="226.4,342.4 226.4,340.9 226.2,339.3 226.1,337.7 225.9,336.0 225.7,334.4 225.4,332.6 225.1,330.9 224.8,329.1 224.3,327.2 223.8,325.4 223.2,323.5 222.5,321.6 221.9,319.7 221.2,317.8 220.4,315.8 219.7,313.9 219.0,312.0 218.3,310.0 217.6,308.1 217.0,306.1 216.4,304.0 215.8,302.0 215.2,300.0 214.5,298.0 212.5,292.1"/><polyline points="227.5,342.1 227.6,340.5 227.7,338.7 227.7,337.0 227.7,335.2 227.6,333.4 227.5,331.6 227.3,329.7 227.1,327.8 226.7,325.9 226.3,323.9 225.7,321.9 225.2,319.9 224.5,317.9 223.9,315.9 223.2,313.9 222.5,311.9 221.9,309.8 221.2,307.8 220.6,305.7 220.0,303.7 219.4,301.6 218.8,299.4 218.1,297.4 217.4,295.3 215.1,289.3"/><polyline points="228.7,341.8 228.9,340.1 229.2,338.2 229.3,336.4 229.5,334.5 229.6,332.6 229.6,330.7 229.5,328.7 229.4,326.7 229.2,324.6 228.8,322.6 228.4,320.5 227.9,318.4 227.3,316.3 226.7,314.2 226.1,312.1 225.5,310.0 224.9,307.8 224.3,305.7 223.7,303.6 223.1,301.4 222.5,299.3 221.9,297.1 221.2,294.9 220.4,292.9 218.0,286.7"/><polyline points="229.8,341.6 230.3,339.7 230.7,337.8 231.0,335.8 231.3,333.9 231.6,331.9 231.7,329.8 231.8,327.7 231.9,325.6 231.7,323.5 231.5,321.3 231.1,319.1 230.7,317.0 230.2,314.8 229.7,312.6 229.1,310.4 228.6,308.2 228.0,306.0 227.5,303.8 226.9,301.6 226.4,299.4 225.8,297.2 225.2,295.0 224.5,292.8 223.6,290.7 221.0,284.4"/><polyline points="231.2,341.3 231.9,339.4 232.5,337.4 233.1,335.3 233.5,333.2 234.0,331.1 234.4,329.0 234.6,326.8 234.8,324.6 234.8,322.4 234.7,320.1 234.5,317.9 234.2,315.6 233.8,313.3 233.4,311.1 233.0,308.8 232.5,306.5 232.0,304.3 231.6,302.0 231.1,299.7 230.7,297.5 230.2,295.2 229.6,292.9 228.9,290.7 228.0,288.5 225.4,282.1"/><polyline points="232.5,341.4 233.3,339.3 234.2,337.3 234.9,335.2 235.6,333.1 236.2,330.9 236.8,328.7 237.2,326.5 237.6,324.3 237.7,322.0 237.7,319.7 237.6,317.4 237.4,315.1 237.1,312.8 236.8,310.5 236.4,308.2 236.0,305.9 235.6,303.7 235.3,301.4 234.9,299.1 234.4,296.8 234.0,294.5 233.5,292.2 232.8,290.0 231.9,287.9 229.1,281.5"/></g>
<path d="M235.0,290.0 C236.9,292.7 237.9,299.2 238.7,305.0 C239.5,310.8 241.0,318.6 240.0,325.0 C239.0,331.4 235.0,339.9 232.5,343.7 C230.0,347.4 228.8,347.7 225.0,347.5 C221.2,347.3 214.4,345.0 210.0,342.5 C205.6,340.0 201.0,335.4 198.7,332.5 C196.4,329.6 196.0,327.9 196.2,325.0 C196.4,322.1 196.9,319.6 200.0,315.0 C203.1,310.4 210.4,301.9 215.0,297.5 C219.6,293.1 224.2,289.9 227.5,288.7 C230.8,287.4 233.1,287.3 235.0,290.0Z" fill="none" stroke="#5a2c0c" stroke-width="3" clip-path="url(#pyrL0)" opacity="0.75" filter="url(#blur1)"/>
<clipPath id="pyrL1"><path d="M250.0,272.5 C253.6,269.6 260.8,270.0 267.5,270.0 C274.2,270.0 283.8,270.8 290.0,272.5 C296.2,274.2 301.7,277.5 305.0,280.0 C308.3,282.5 310.4,283.8 310.0,287.5 C309.6,291.2 306.7,297.1 302.5,302.5 C298.3,307.9 290.0,315.4 285.0,320.0 C280.0,324.6 275.8,328.1 272.5,330.0 C269.2,331.9 267.9,332.4 265.0,331.2 C262.1,329.9 257.7,326.9 255.0,322.5 C252.3,318.1 250.2,310.8 248.7,305.0 C247.2,299.2 246.0,292.9 246.2,287.5 C246.4,282.1 246.4,275.4 250.0,272.5Z"/></clipPath>
<path d="M250.0,272.5 C253.6,269.6 260.8,270.0 267.5,270.0 C274.2,270.0 283.8,270.8 290.0,272.5 C296.2,274.2 301.7,277.5 305.0,280.0 C308.3,282.5 310.4,283.8 310.0,287.5 C309.6,291.2 306.7,297.1 302.5,302.5 C298.3,307.9 290.0,315.4 285.0,320.0 C280.0,324.6 275.8,328.1 272.5,330.0 C269.2,331.9 267.9,332.4 265.0,331.2 C262.1,329.9 257.7,326.9 255.0,322.5 C252.3,318.1 250.2,310.8 248.7,305.0 C247.2,299.2 246.0,292.9 246.2,287.5 C246.4,282.1 246.4,275.4 250.0,272.5Z" fill="#6a3915"/>
<g clip-path="url(#pyrL1)" fill="none" stroke="#8a582a" stroke-width="1.0" opacity="1"><polyline points="257.6,324.0 256.5,322.1 255.6,320.0 254.9,317.9 254.2,315.7 253.6,313.6 253.1,311.4 252.6,309.1 252.1,306.9 251.7,304.6 251.3,302.4 251.0,300.1 250.7,297.9 250.4,295.6 250.2,293.3 250.1,291.0 250.1,288.6 250.2,286.3 250.3,284.0 250.5,281.6 250.8,279.3 251.2,277.0 251.8,274.7 252.7,272.6 254.1,270.7 258.3,265.1"/><polyline points="259.0,324.0 258.1,322.1 257.4,320.0 256.9,317.9 256.4,315.7 256.0,313.5 255.7,311.3 255.3,309.0 255.1,306.8 254.8,304.5 254.6,302.2 254.4,300.0 254.2,297.7 254.1,295.4 254.1,293.1 254.1,290.8 254.2,288.4 254.4,286.1 254.7,283.7 254.9,281.3 255.3,279.0 255.8,276.6 256.4,274.3 257.3,272.1 258.6,270.1 262.6,264.3"/><polyline points="260.6,324.1 260.0,322.1 259.6,320.1 259.3,317.9 259.0,315.8 258.8,313.6 258.7,311.3 258.6,309.1 258.5,306.9 258.5,304.6 258.5,302.4 258.5,300.1 258.5,297.8 258.6,295.5 258.7,293.2 258.9,290.9 259.2,288.5 259.5,286.2 259.9,283.8 260.3,281.4 260.8,279.0 261.4,276.6 262.1,274.3 263.0,272.0 264.3,270.0 268.3,263.9"/><polyline points="262.0,324.2 261.6,322.2 261.4,320.2 261.3,318.0 261.2,315.9 261.2,313.7 261.3,311.5 261.4,309.3 261.5,307.0 261.6,304.8 261.7,302.5 261.9,300.3 262.1,298.0 262.3,295.7 262.6,293.4 262.9,291.1 263.3,288.8 263.8,286.4 264.3,284.0 264.8,281.6 265.3,279.2 265.9,276.8 266.7,274.4 267.6,272.1 268.9,270.0 272.6,263.7"/><polyline points="263.4,324.3 263.3,322.4 263.3,320.3 263.4,318.2 263.5,316.0 263.7,313.9 263.9,311.7 264.1,309.5 264.4,307.3 264.7,305.0 265.0,302.8 265.4,300.5 265.7,298.3 266.1,296.0 266.5,293.7 267.0,291.4 267.5,289.1 268.0,286.7 268.6,284.3 269.2,281.9 269.8,279.5 270.5,277.1 271.3,274.7 272.2,272.4 273.4,270.2 277.0,263.7"/><polyline points="264.8,324.5 264.9,322.5 265.1,320.5 265.4,318.4 265.7,316.3 266.1,314.1 266.5,311.9 266.9,309.7 267.4,307.6 267.8,305.3 268.3,303.1 268.8,300.9 269.3,298.7 269.8,296.4 270.4,294.1 271.0,291.9 271.6,289.5 272.3,287.2 273.0,284.8 273.7,282.4 274.4,280.0 275.1,277.6 275.9,275.1 276.8,272.8 278.0,270.5 281.3,263.9"/><polyline points="266.4,324.7 266.8,322.8 267.2,320.8 267.7,318.7 268.3,316.6 268.9,314.5 269.5,312.3 270.1,310.2 270.8,308.0 271.5,305.8 272.1,303.7 272.8,301.5 273.5,299.3 274.3,297.0 275.0,294.8 275.8,292.5 276.6,290.2 277.4,287.9 278.2,285.6 279.0,283.2 279.8,280.8 280.7,278.3 281.5,275.9 282.5,273.5 283.6,271.2 286.9,264.4"/><polyline points="267.8,324.9 268.4,323.0 269.1,321.1 269.8,319.0 270.5,317.0 271.3,314.9 272.1,312.8 272.9,310.6 273.7,308.5 274.5,306.4 275.4,304.3 276.2,302.1 277.1,299.9 278.0,297.8 278.9,295.5 279.8,293.3 280.7,291.0 281.6,288.7 282.5,286.4 283.4,284.0 284.3,281.6 285.2,279.2 286.1,276.8 287.0,274.4 288.1,272.1 291.2,265.1"/><polyline points="269.2,325.2 270.0,323.4 270.9,321.5 271.8,319.5 272.7,317.5 273.7,315.4 274.6,313.4 275.6,311.3 276.6,309.2 277.6,307.1 278.6,305.0 279.6,302.9 280.6,300.8 281.6,298.7 282.6,296.5 283.7,294.3 284.7,292.1 285.7,289.9 286.8,287.6 287.7,285.2 288.7,282.8 289.6,280.5 290.5,278.0 291.5,275.6 292.5,273.3 295.3,266.2"/><polyline points="270.5,325.6 271.6,323.8 272.6,322.0 273.7,320.1 274.8,318.1 276.0,316.1 277.1,314.1 278.2,312.1 279.4,310.1 280.5,308.1 281.7,306.1 282.9,304.1 284.0,302.0 285.2,299.9 286.3,297.8 287.5,295.7 288.6,293.6 289.7,291.4 290.8,289.1 291.9,286.8 292.9,284.5 293.9,282.1 294.8,279.7 295.8,277.3 296.7,275.0 299.3,267.9"/><polyline points="271.8,326.1 273.1,324.4 274.4,322.6 275.6,320.7 276.9,318.9 278.2,317.0 279.5,315.1 280.8,313.2 282.1,311.2 283.4,309.3 284.7,307.4 286.0,305.4 287.3,303.4 288.6,301.5 289.9,299.4 291.2,297.4 292.4,295.3 293.6,293.2 294.8,291.0 295.9,288.8 297.0,286.5 298.0,284.2 299.0,281.8 299.9,279.5 300.7,277.1 303.1,270.1"/><polyline points="273.3,326.7 274.8,325.1 276.3,323.5 277.7,321.7 279.2,320.0 280.7,318.2 282.2,316.4 283.6,314.6 285.1,312.8 286.6,311.0 288.1,309.2 289.5,307.3 291.0,305.5 292.5,303.6 293.9,301.7 295.3,299.8 296.7,297.8 298.0,295.8 299.3,293.7 300.5,291.6 301.6,289.4 302.7,287.2 303.7,284.9 304.6,282.6 305.4,280.3 307.6,273.3"/><polyline points="274.5,327.3 276.2,325.8 277.8,324.3 279.5,322.6 281.1,321.0 282.7,319.3 284.4,317.6 286.0,316.0 287.6,314.3 289.2,312.6 290.8,310.9 292.4,309.1 294.0,307.4 295.5,305.6 297.1,303.8 298.6,302.0 300.0,300.1 301.4,298.2 302.8,296.2 304.0,294.2 305.2,292.1 306.3,290.0 307.3,287.8 308.2,285.5 308.9,283.2 310.8,276.4"/></g>
<path d="M250.0,272.5 C253.6,269.6 260.8,270.0 267.5,270.0 C274.2,270.0 283.8,270.8 290.0,272.5 C296.2,274.2 301.7,277.5 305.0,280.0 C308.3,282.5 310.4,283.8 310.0,287.5 C309.6,291.2 306.7,297.1 302.5,302.5 C298.3,307.9 290.0,315.4 285.0,320.0 C280.0,324.6 275.8,328.1 272.5,330.0 C269.2,331.9 267.9,332.4 265.0,331.2 C262.1,329.9 257.7,326.9 255.0,322.5 C252.3,318.1 250.2,310.8 248.7,305.0 C247.2,299.2 246.0,292.9 246.2,287.5 C246.4,282.1 246.4,275.4 250.0,272.5Z" fill="none" stroke="#5a2c0c" stroke-width="3" clip-path="url(#pyrL1)" opacity="0.75" filter="url(#blur1)"/>
<clipPath id="pyrL2"><path d="M325.0,302.5 C328.3,301.7 330.8,302.1 335.0,305.0 C339.2,307.9 345.4,314.2 350.0,320.0 C354.6,325.8 359.6,334.2 362.5,340.0 C365.4,345.8 367.9,351.2 367.5,355.0 C367.1,358.8 364.6,360.6 360.0,362.5 C355.4,364.4 348.3,365.8 340.0,366.2 C331.7,366.6 317.9,366.0 310.0,365.0 C302.1,364.0 295.6,362.9 292.5,360.0 C289.4,357.1 289.9,352.1 291.2,347.5 C292.4,342.9 296.0,338.8 300.0,332.5 C304.0,326.2 310.8,315.0 315.0,310.0 C319.2,305.0 321.7,303.3 325.0,302.5Z"/></clipPath>
<path d="M325.0,302.5 C328.3,301.7 330.8,302.1 335.0,305.0 C339.2,307.9 345.4,314.2 350.0,320.0 C354.6,325.8 359.6,334.2 362.5,340.0 C365.4,345.8 367.9,351.2 367.5,355.0 C367.1,358.8 364.6,360.6 360.0,362.5 C355.4,364.4 348.3,365.8 340.0,366.2 C331.7,366.6 317.9,366.0 310.0,365.0 C302.1,364.0 295.6,362.9 292.5,360.0 C289.4,357.1 289.9,352.1 291.2,347.5 C292.4,342.9 296.0,338.8 300.0,332.5 C304.0,326.2 310.8,315.0 315.0,310.0 C319.2,305.0 321.7,303.3 325.0,302.5Z" fill="#6a3915"/>
<g clip-path="url(#pyrL2)" fill="none" stroke="#8a582a" stroke-width="1.0" opacity="1"><polyline points="296.0,339.8 297.3,338.2 298.6,336.6 299.9,335.0 301.2,333.4 302.5,331.7 303.8,330.0 305.0,328.4 306.3,326.7 307.6,325.0 308.8,323.4 310.1,321.7 311.4,320.0 312.7,318.4 314.1,316.7 315.4,315.1 316.8,313.4 318.2,311.8 319.6,310.2 321.1,308.7 322.7,307.2 324.3,305.7 326.1,304.4 327.9,303.3 329.8,302.4 335.4,299.6"/><polyline points="296.2,341.1 297.7,339.7 299.2,338.2 300.7,336.7 302.2,335.1 303.6,333.6 305.1,332.0 306.5,330.4 308.0,328.8 309.5,327.2 311.0,325.6 312.4,324.0 313.9,322.4 315.4,320.8 317.0,319.2 318.5,317.6 320.0,316.0 321.6,314.4 323.3,312.8 324.9,311.3 326.7,309.8 328.5,308.3 330.4,306.9 332.3,305.6 334.2,304.5 339.7,301.0"/><polyline points="296.4,342.7 298.1,341.5 299.8,340.2 301.5,338.8 303.2,337.5 304.9,336.0 306.6,334.6 308.2,333.2 309.9,331.7 311.6,330.2 313.3,328.8 315.0,327.3 316.7,325.8 318.4,324.3 320.1,322.8 321.9,321.3 323.6,319.8 325.4,318.3 327.3,316.8 329.1,315.3 331.0,313.8 333.0,312.3 335.0,310.9 337.1,309.5 338.9,308.2 344.5,304.2"/><polyline points="296.5,344.3 298.3,343.2 300.2,342.1 302.0,340.9 303.9,339.6 305.7,338.4 307.6,337.1 309.4,335.7 311.3,334.4 313.1,333.1 315.0,331.7 316.9,330.3 318.7,329.0 320.6,327.6 322.5,326.2 324.4,324.8 326.3,323.3 328.3,321.9 330.3,320.4 332.3,318.9 334.3,317.5 336.4,316.0 338.6,314.5 340.6,313.0 342.5,311.5 347.9,307.0"/><polyline points="296.4,345.9 298.4,345.0 300.4,344.0 302.5,343.0 304.5,341.9 306.5,340.7 308.5,339.6 310.5,338.4 312.5,337.2 314.6,336.0 316.6,334.7 318.6,333.5 320.6,332.2 322.7,330.9 324.7,329.6 326.8,328.3 328.9,327.0 331.0,325.6 333.1,324.2 335.3,322.8 337.5,321.3 339.7,319.8 341.9,318.3 344.0,316.7 345.8,315.1 351.1,310.0"/><polyline points="296.4,347.5 298.5,346.8 300.7,346.0 302.9,345.1 305.0,344.2 307.2,343.2 309.4,342.2 311.5,341.1 313.7,340.0 315.9,338.9 318.1,337.8 320.3,336.7 322.5,335.6 324.7,334.4 326.9,333.2 329.1,332.0 331.3,330.7 333.6,329.4 335.8,328.1 338.1,326.7 340.4,325.3 342.8,323.8 345.1,322.3 347.2,320.6 349.0,318.7 354.1,313.1"/><polyline points="296.5,349.3 298.7,348.9 301.1,348.3 303.4,347.6 305.7,346.8 308.1,346.0 310.4,345.2 312.8,344.3 315.1,343.4 317.5,342.5 319.8,341.5 322.2,340.6 324.6,339.6 327.0,338.6 329.3,337.5 331.7,336.4 334.1,335.3 336.5,334.1 339.0,332.9 341.4,331.6 343.9,330.3 346.3,328.8 348.7,327.3 351.0,325.6 352.6,323.6 357.6,317.6"/><polyline points="296.3,351.0 298.7,350.8 301.2,350.4 303.7,349.8 306.2,349.2 308.6,348.6 311.1,347.9 313.6,347.2 316.1,346.4 318.6,345.6 321.1,344.8 323.6,344.0 326.1,343.1 328.6,342.2 331.2,341.3 333.7,340.3 336.2,339.3 338.8,338.2 341.3,337.1 343.9,335.9 346.4,334.6 349.0,333.1 351.5,331.6 353.7,329.7 355.3,327.6 360.1,321.1"/><polyline points="296.2,352.7 298.7,352.7 301.3,352.4 303.9,352.1 306.5,351.7 309.1,351.2 311.8,350.6 314.4,350.1 317.0,349.5 319.7,348.8 322.3,348.1 324.9,347.5 327.6,346.7 330.2,346.0 332.9,345.2 335.6,344.3 338.2,343.4 340.9,342.4 343.6,341.3 346.2,340.2 348.9,338.9 351.5,337.5 354.1,336.0 356.4,334.0 357.9,331.7 362.5,324.7"/><polyline points="296.0,354.4 298.6,354.6 301.4,354.6 304.1,354.4 306.8,354.1 309.6,353.8 312.4,353.4 315.1,353.0 317.9,352.5 320.6,352.0 323.4,351.5 326.2,351.0 329.0,350.4 331.8,349.8 334.5,349.1 337.3,348.3 340.1,347.5 342.9,346.6 345.7,345.6 348.5,344.6 351.2,343.3 354.0,342.0 356.6,340.4 358.9,338.4 360.3,335.9 364.6,328.5"/><polyline points="295.8,356.1 298.6,356.5 301.4,356.7 304.3,356.7 307.1,356.6 310.0,356.4 312.9,356.2 315.8,356.0 318.7,355.7 321.6,355.3 324.5,354.9 327.4,354.5 330.3,354.1 333.2,353.6 336.1,353.0 339.0,352.4 341.9,351.7 344.8,350.9 347.7,350.0 350.6,349.0 353.5,347.9 356.3,346.5 359.0,344.9 361.2,342.8 362.6,340.2 366.6,332.3"/><polyline points="295.7,358.0 298.5,358.7 301.5,359.1 304.5,359.3 307.5,359.4 310.5,359.5 313.5,359.5 316.6,359.4 319.6,359.3 322.6,359.2 325.7,359.0 328.7,358.7 331.8,358.5 334.8,358.2 337.8,357.8 340.9,357.3 343.9,356.8 347.0,356.1 350.0,355.3 353.0,354.5 356.0,353.4 358.9,352.1 361.6,350.5 363.9,348.4 365.2,345.7 369.0,337.4"/><polyline points="295.4,359.8 298.3,360.7 301.4,361.3 304.5,361.7 307.6,362.0 310.7,362.2 313.8,362.4 317.0,362.5 320.1,362.6 323.3,362.6 326.4,362.5 329.6,362.5 332.7,362.3 335.8,362.2 339.0,361.9 342.1,361.6 345.3,361.1 348.4,360.6 351.5,359.9 354.6,359.1 357.6,358.1 360.6,356.9 363.4,355.3 365.7,353.1 366.9,350.2 370.4,341.6"/></g>
<path d="M325.0,302.5 C328.3,301.7 330.8,302.1 335.0,305.0 C339.2,307.9 345.4,314.2 350.0,320.0 C354.6,325.8 359.6,334.2 362.5,340.0 C365.4,345.8 367.9,351.2 367.5,355.0 C367.1,358.8 364.6,360.6 360.0,362.5 C355.4,364.4 348.3,365.8 340.0,366.2 C331.7,366.6 317.9,366.0 310.0,365.0 C302.1,364.0 295.6,362.9 292.5,360.0 C289.4,357.1 289.9,352.1 291.2,347.5 C292.4,342.9 296.0,338.8 300.0,332.5 C304.0,326.2 310.8,315.0 315.0,310.0 C319.2,305.0 321.7,303.3 325.0,302.5Z" fill="none" stroke="#5a2c0c" stroke-width="3" clip-path="url(#pyrL2)" opacity="0.75" filter="url(#blur1)"/>
<clipPath id="pyrL3"><path d="M372.5,372.5 C377.1,374.4 376.2,379.6 377.5,385.0 C378.8,390.4 379.4,398.3 380.0,405.0 C380.6,411.7 381.6,419.6 381.2,425.0 C380.8,430.4 379.8,435.2 377.5,437.5 C375.2,439.8 372.9,439.5 367.5,438.7 C362.1,437.9 352.5,435.6 345.0,432.5 C337.5,429.4 328.8,423.8 322.5,420.0 C316.2,416.2 309.6,413.3 307.5,410.0 C305.4,406.7 307.1,404.2 310.0,400.0 C312.9,395.8 318.3,389.4 325.0,385.0 C331.7,380.6 342.1,375.8 350.0,373.7 C357.9,371.6 367.9,370.6 372.5,372.5Z"/></clipPath>
<path d="M372.5,372.5 C377.1,374.4 376.2,379.6 377.5,385.0 C378.8,390.4 379.4,398.3 380.0,405.0 C380.6,411.7 381.6,419.6 381.2,425.0 C380.8,430.4 379.8,435.2 377.5,437.5 C375.2,439.8 372.9,439.5 367.5,438.7 C362.1,437.9 352.5,435.6 345.0,432.5 C337.5,429.4 328.8,423.8 322.5,420.0 C316.2,416.2 309.6,413.3 307.5,410.0 C305.4,406.7 307.1,404.2 310.0,400.0 C312.9,395.8 318.3,389.4 325.0,385.0 C331.7,380.6 342.1,375.8 350.0,373.7 C357.9,371.6 367.9,370.6 372.5,372.5Z" fill="#6a3915"/>
<g clip-path="url(#pyrL3)" fill="none" stroke="#8a582a" stroke-width="1.0" opacity="1"><polyline points="312.9,398.6 314.8,396.6 316.8,394.7 318.9,392.9 321.1,391.1 323.4,389.4 325.8,387.9 328.3,386.5 330.8,385.2 333.4,384.0 336.0,382.8 338.7,381.7 341.4,380.6 344.1,379.6 346.9,378.7 349.7,377.9 352.5,377.1 355.4,376.5 358.2,376.0 361.1,375.5 364.0,375.3 367.0,375.1 369.9,375.0 372.8,375.2 375.7,375.7 384.1,377.2"/><polyline points="313.4,400.0 315.4,398.3 317.5,396.6 319.7,395.0 321.9,393.5 324.2,392.0 326.7,390.7 329.2,389.5 331.7,388.4 334.3,387.3 337.0,386.4 339.6,385.4 342.3,384.5 345.1,383.6 347.9,382.8 350.7,382.1 353.5,381.5 356.4,380.9 359.3,380.5 362.2,380.1 365.1,379.9 368.0,379.7 371.0,379.7 373.9,379.8 376.7,380.1 385.1,381.2"/><polyline points="314.0,401.7 316.1,400.2 318.2,398.8 320.4,397.5 322.7,396.2 325.0,395.0 327.4,394.0 330.0,393.0 332.5,392.1 335.1,391.3 337.8,390.5 340.5,389.8 343.2,389.1 346.0,388.4 348.7,387.7 351.6,387.2 354.4,386.7 357.3,386.3 360.2,385.9 363.1,385.7 366.0,385.5 369.0,385.4 371.9,385.4 374.9,385.5 377.7,385.8 386.0,386.5"/><polyline points="314.5,403.1 316.6,401.8 318.8,400.7 321.1,399.6 323.4,398.6 325.7,397.6 328.2,396.8 330.7,396.0 333.3,395.3 335.9,394.7 338.6,394.1 341.3,393.5 344.0,393.0 346.7,392.4 349.5,391.9 352.3,391.5 355.2,391.0 358.1,390.7 361.0,390.5 363.9,390.3 366.8,390.2 369.8,390.1 372.7,390.2 375.7,390.2 378.4,390.3 386.7,390.5"/><polyline points="315.0,404.5 317.2,403.5 319.4,402.6 321.7,401.8 324.0,401.0 326.4,400.3 328.8,399.6 331.4,399.1 333.9,398.6 336.6,398.1 339.2,397.7 341.9,397.3 344.6,396.9 347.4,396.5 350.2,396.1 353.0,395.8 355.8,395.4 358.7,395.2 361.6,395.1 364.5,394.9 367.5,394.9 370.4,394.9 373.3,394.9 376.3,394.9 379.0,394.8 387.2,394.6"/><polyline points="315.5,405.9 317.7,405.2 320.0,404.5 322.3,403.9 324.6,403.4 327.0,402.9 329.5,402.5 332.0,402.1 334.6,401.8 337.2,401.6 339.8,401.3 342.5,401.0 345.2,400.8 348.0,400.5 350.8,400.3 353.6,400.1 356.4,399.9 359.3,399.7 362.2,399.7 365.1,399.6 368.0,399.6 370.9,399.6 373.9,399.7 376.8,399.6 379.5,399.4 387.6,398.7"/><polyline points="316.0,407.6 318.3,407.1 320.5,406.7 322.9,406.4 325.2,406.1 327.6,405.9 330.1,405.8 332.6,405.7 335.2,405.6 337.8,405.5 340.5,405.5 343.1,405.4 345.9,405.4 348.6,405.3 351.4,405.2 354.2,405.2 357.0,405.1 359.9,405.1 362.8,405.1 365.7,405.2 368.6,405.3 371.5,405.4 374.4,405.5 377.3,405.4 380.0,405.1 388.0,404.0"/><polyline points="316.5,409.0 318.8,408.8 321.1,408.7 323.4,408.6 325.8,408.6 328.2,408.5 330.7,408.6 333.2,408.7 335.8,408.8 338.4,409.0 341.0,409.1 343.7,409.2 346.4,409.3 349.2,409.4 351.9,409.4 354.7,409.5 357.6,409.5 360.4,409.6 363.3,409.7 366.2,409.8 369.1,410.0 372.0,410.1 374.9,410.3 377.8,410.2 380.5,409.6 388.4,408.1"/><polyline points="317.0,410.4 319.3,410.5 321.6,410.6 324.0,410.8 326.4,411.0 328.8,411.2 331.3,411.5 333.8,411.8 336.4,412.1 339.0,412.4 341.6,412.7 344.3,413.0 347.0,413.2 349.7,413.4 352.5,413.6 355.3,413.8 358.1,414.0 360.9,414.1 363.8,414.3 366.7,414.5 369.6,414.7 372.5,414.9 375.4,415.0 378.3,414.9 380.9,414.2 388.7,412.2"/><polyline points="317.4,411.9 319.8,412.2 322.2,412.5 324.5,412.9 327.0,413.4 329.4,413.8 331.9,414.3 334.4,414.8 336.9,415.3 339.5,415.8 342.1,416.3 344.8,416.8 347.5,417.1 350.2,417.5 353.0,417.8 355.8,418.1 358.6,418.4 361.4,418.7 364.2,418.9 367.1,419.2 370.0,419.4 372.9,419.6 375.8,419.8 378.6,419.6 381.2,418.8 388.9,416.3"/><polyline points="317.8,413.3 320.2,413.8 322.6,414.4 325.0,415.1 327.4,415.8 329.9,416.5 332.3,417.2 334.8,417.9 337.4,418.6 339.9,419.3 342.5,419.9 345.2,420.5 347.8,421.1 350.6,421.6 353.3,422.0 356.1,422.4 358.8,422.8 361.6,423.2 364.5,423.5 367.3,423.8 370.1,424.1 373.0,424.4 375.9,424.6 378.7,424.3 381.3,423.4 388.8,420.4"/><polyline points="318.1,414.9 320.5,415.8 322.9,416.6 325.3,417.6 327.7,418.5 330.1,419.5 332.6,420.4 335.0,421.4 337.5,422.3 340.1,423.2 342.6,424.1 345.2,424.9 347.9,425.7 350.5,426.3 353.2,426.9 355.9,427.5 358.7,428.1 361.4,428.5 364.2,429.0 367.0,429.4 369.8,429.8 372.6,430.2 375.5,430.4 378.3,430.2 380.7,429.1 388.1,425.8"/><polyline points="318.4,416.3 320.8,417.4 323.1,418.5 325.5,419.7 327.9,420.9 330.2,422.1 332.6,423.2 335.0,424.4 337.5,425.5 339.9,426.6 342.4,427.7 345.0,428.6 347.6,429.5 350.2,430.3 352.8,431.1 355.5,431.8 358.2,432.4 360.9,433.0 363.6,433.5 366.3,434.0 369.0,434.5 371.8,434.8 374.6,435.0 377.3,434.8 379.7,433.5 386.8,429.7"/></g>
<path d="M372.5,372.5 C377.1,374.4 376.2,379.6 377.5,385.0 C378.8,390.4 379.4,398.3 380.0,405.0 C380.6,411.7 381.6,419.6 381.2,425.0 C380.8,430.4 379.8,435.2 377.5,437.5 C375.2,439.8 372.9,439.5 367.5,438.7 C362.1,437.9 352.5,435.6 345.0,432.5 C337.5,429.4 328.8,423.8 322.5,420.0 C316.2,416.2 309.6,413.3 307.5,410.0 C305.4,406.7 307.1,404.2 310.0,400.0 C312.9,395.8 318.3,389.4 325.0,385.0 C331.7,380.6 342.1,375.8 350.0,373.7 C357.9,371.6 367.9,370.6 372.5,372.5Z" fill="none" stroke="#5a2c0c" stroke-width="3" clip-path="url(#pyrL3)" opacity="0.75" filter="url(#blur1)"/>
<clipPath id="pyrL4"><path d="M306.0,471.0 C308.5,467.0 312.0,464.2 318.0,462.0 C324.0,459.8 332.5,458.2 342.0,457.5 C351.5,456.8 368.2,456.8 375.0,457.5 C381.8,458.2 381.2,456.8 382.5,462.0 C383.8,467.2 383.2,480.0 382.5,489.0 C381.8,498.0 380.2,510.0 378.0,516.0 C375.8,522.0 373.0,523.5 369.0,525.0 C365.0,526.5 360.5,527.0 354.0,525.0 C347.5,523.0 337.0,517.5 330.0,513.0 C323.0,508.5 316.5,502.5 312.0,498.0 C307.5,493.5 304.0,490.5 303.0,486.0 C302.0,481.5 303.5,475.0 306.0,471.0Z"/></clipPath>
<path d="M306.0,471.0 C308.5,467.0 312.0,464.2 318.0,462.0 C324.0,459.8 332.5,458.2 342.0,457.5 C351.5,456.8 368.2,456.8 375.0,457.5 C381.8,458.2 381.2,456.8 382.5,462.0 C383.8,467.2 383.2,480.0 382.5,489.0 C381.8,498.0 380.2,510.0 378.0,516.0 C375.8,522.0 373.0,523.5 369.0,525.0 C365.0,526.5 360.5,527.0 354.0,525.0 C347.5,523.0 337.0,517.5 330.0,513.0 C323.0,508.5 316.5,502.5 312.0,498.0 C307.5,493.5 304.0,490.5 303.0,486.0 C302.0,481.5 303.5,475.0 306.0,471.0Z" fill="#6a3915"/>
<g clip-path="url(#pyrL4)" fill="none" stroke="#8a582a" stroke-width="1.0" opacity="1"><polyline points="307.4,471.8 309.6,469.6 312.3,467.7 315.2,466.3 318.3,465.2 321.5,464.3 324.8,463.6 328.1,463.1 331.4,462.6 334.7,462.3 338.1,462.0 341.5,461.8 344.8,461.7 348.2,461.6 351.6,461.6 355.0,461.6 358.4,461.7 361.8,461.8 365.2,461.9 368.6,462.0 372.0,462.2 375.4,462.5 378.8,462.7 381.9,463.6 383.1,466.6 386.5,475.5"/><polyline points="307.9,473.8 310.2,471.8 312.8,470.3 315.7,469.1 318.8,468.2 321.9,467.6 325.2,467.1 328.4,466.7 331.7,466.4 335.0,466.2 338.3,466.1 341.7,466.0 345.0,466.0 348.4,466.1 351.7,466.2 355.1,466.3 358.5,466.4 361.8,466.6 365.2,466.8 368.6,467.0 372.0,467.2 375.4,467.5 378.8,467.7 381.9,468.5 383.2,471.1 387.1,479.2"/><polyline points="308.3,475.9 310.6,474.4 313.3,473.2 316.1,472.3 319.2,471.7 322.3,471.3 325.4,471.0 328.7,470.8 331.9,470.8 335.2,470.7 338.4,470.8 341.7,470.9 345.0,471.0 348.4,471.2 351.7,471.5 355.0,471.7 358.4,472.0 361.7,472.3 365.1,472.6 368.4,472.9 371.8,473.2 375.2,473.5 378.6,473.7 381.7,474.4 383.2,476.9 387.5,484.2"/><polyline points="308.8,477.9 311.1,476.7 313.7,475.8 316.5,475.1 319.5,474.7 322.6,474.5 325.7,474.5 328.8,474.5 332.0,474.6 335.3,474.7 338.5,474.9 341.7,475.1 345.0,475.4 348.3,475.7 351.6,476.0 354.9,476.4 358.2,476.7 361.5,477.1 364.8,477.5 368.2,477.8 371.5,478.1 374.9,478.5 378.2,478.7 381.4,479.3 383.0,481.5 387.8,487.9"/><polyline points="309.2,479.9 311.5,479.0 314.1,478.3 316.9,478.0 319.8,477.8 322.8,477.8 325.9,477.9 329.0,478.1 332.1,478.4 335.3,478.7 338.5,479.0 341.7,479.3 344.9,479.7 348.2,480.1 351.4,480.6 354.7,481.0 357.9,481.5 361.2,481.9 364.5,482.3 367.8,482.8 371.1,483.1 374.5,483.5 377.8,483.7 381.0,484.2 382.7,486.1 388.0,491.6"/><polyline points="309.6,481.8 311.9,481.2 314.5,480.9 317.3,480.8 320.1,480.9 323.1,481.1 326.1,481.4 329.1,481.8 332.2,482.2 335.3,482.6 338.4,483.1 341.6,483.6 344.8,484.1 348.0,484.6 351.2,485.1 354.4,485.7 357.6,486.2 360.8,486.7 364.1,487.2 367.4,487.7 370.7,488.1 374.0,488.4 377.3,488.6 380.5,489.1 382.3,490.6 388.0,495.4"/><polyline points="310.0,484.0 312.3,483.8 314.8,483.8 317.5,484.0 320.3,484.3 323.2,484.8 326.2,485.3 329.1,485.9 332.2,486.5 335.2,487.1 338.3,487.8 341.4,488.4 344.5,489.1 347.6,489.7 350.8,490.4 353.9,491.1 357.1,491.8 360.3,492.4 363.5,493.0 366.8,493.6 370.0,494.0 373.3,494.4 376.6,494.6 379.7,495.0 381.8,496.3 387.8,500.3"/><polyline points="310.4,485.9 312.7,486.0 315.2,486.3 317.8,486.8 320.6,487.4 323.4,488.0 326.3,488.8 329.2,489.5 332.1,490.3 335.1,491.1 338.1,491.8 341.2,492.6 344.2,493.4 347.3,494.2 350.4,495.0 353.5,495.7 356.6,496.5 359.8,497.2 363.0,497.9 366.2,498.5 369.4,499.0 372.6,499.4 375.9,499.6 379.0,499.9 381.2,500.9 387.7,504.0"/><polyline points="310.7,487.9 313.0,488.3 315.5,488.9 318.1,489.6 320.8,490.4 323.5,491.3 326.3,492.2 329.1,493.2 332.0,494.1 335.0,495.0 337.9,495.9 340.9,496.8 343.9,497.7 346.9,498.6 350.0,499.5 353.0,500.3 356.1,501.2 359.2,502.0 362.3,502.7 365.5,503.4 368.6,503.9 371.9,504.3 375.1,504.5 378.2,504.7 380.5,505.4 387.4,507.7"/><polyline points="311.0,489.8 313.3,490.6 315.8,491.5 318.3,492.5 320.9,493.5 323.6,494.6 326.3,495.7 329.1,496.8 331.9,497.9 334.7,498.9 337.6,500.0 340.5,501.0 343.5,502.0 346.4,503.0 349.4,504.0 352.4,504.9 355.4,505.9 358.4,506.8 361.5,507.6 364.6,508.3 367.8,508.9 370.9,509.3 374.1,509.4 377.2,509.5 379.6,510.0 386.9,511.4"/><polyline points="311.3,491.8 313.6,492.9 316.0,494.0 318.4,495.3 320.9,496.5 323.5,497.8 326.2,499.1 328.8,500.4 331.6,501.6 334.3,502.8 337.2,504.0 340.0,505.1 342.9,506.3 345.7,507.4 348.6,508.5 351.6,509.5 354.5,510.5 357.5,511.5 360.5,512.3 363.5,513.1 366.6,513.7 369.8,514.1 372.9,514.2 376.0,514.2 378.5,514.4 386.1,514.9"/><polyline points="311.4,493.8 313.6,495.3 315.9,496.8 318.2,498.3 320.6,499.8 323.1,501.3 325.6,502.8 328.2,504.3 330.8,505.7 333.4,507.1 336.1,508.4 338.8,509.7 341.6,511.0 344.4,512.2 347.1,513.4 350.0,514.6 352.8,515.7 355.7,516.8 358.6,517.8 361.5,518.6 364.5,519.3 367.6,519.7 370.6,519.8 373.6,519.7 376.2,519.6 384.0,519.4"/><polyline points="311.3,495.6 313.4,497.3 315.6,499.0 317.8,500.8 320.1,502.5 322.4,504.2 324.7,505.8 327.2,507.4 329.6,509.0 332.1,510.5 334.7,511.9 337.2,513.3 339.8,514.6 342.5,515.9 345.1,517.2 347.8,518.4 350.5,519.6 353.2,520.7 356.0,521.7 358.8,522.5 361.7,523.2 364.6,523.6 367.6,523.6 370.4,523.4 373.1,523.0 381.1,521.7"/></g>
<path d="M306.0,471.0 C308.5,467.0 312.0,464.2 318.0,462.0 C324.0,459.8 332.5,458.2 342.0,457.5 C351.5,456.8 368.2,456.8 375.0,457.5 C381.8,458.2 381.2,456.8 382.5,462.0 C383.8,467.2 383.2,480.0 382.5,489.0 C381.8,498.0 380.2,510.0 378.0,516.0 C375.8,522.0 373.0,523.5 369.0,525.0 C365.0,526.5 360.5,527.0 354.0,525.0 C347.5,523.0 337.0,517.5 330.0,513.0 C323.0,508.5 316.5,502.5 312.0,498.0 C307.5,493.5 304.0,490.5 303.0,486.0 C302.0,481.5 303.5,475.0 306.0,471.0Z" fill="none" stroke="#5a2c0c" stroke-width="3" clip-path="url(#pyrL4)" opacity="0.75" filter="url(#blur1)"/>
<clipPath id="pyrL5"><path d="M294.0,534.0 C296.0,531.2 300.0,530.0 306.0,529.5 C312.0,529.0 321.0,529.2 330.0,531.0 C339.0,532.8 353.5,536.5 360.0,540.0 C366.5,543.5 368.0,548.0 369.0,552.0 C370.0,556.0 368.5,559.0 366.0,564.0 C363.5,569.0 358.5,576.0 354.0,582.0 C349.5,588.0 343.0,596.5 339.0,600.0 C335.0,603.5 333.0,604.5 330.0,603.0 C327.0,601.5 325.0,597.0 321.0,591.0 C317.0,585.0 310.5,574.5 306.0,567.0 C301.5,559.5 296.0,551.5 294.0,546.0 C292.0,540.5 292.0,536.8 294.0,534.0Z"/></clipPath>
<path d="M294.0,534.0 C296.0,531.2 300.0,530.0 306.0,529.5 C312.0,529.0 321.0,529.2 330.0,531.0 C339.0,532.8 353.5,536.5 360.0,540.0 C366.5,543.5 368.0,548.0 369.0,552.0 C370.0,556.0 368.5,559.0 366.0,564.0 C363.5,569.0 358.5,576.0 354.0,582.0 C349.5,588.0 343.0,596.5 339.0,600.0 C335.0,603.5 333.0,604.5 330.0,603.0 C327.0,601.5 325.0,597.0 321.0,591.0 C317.0,585.0 310.5,574.5 306.0,567.0 C301.5,559.5 296.0,551.5 294.0,546.0 C292.0,540.5 292.0,536.8 294.0,534.0Z" fill="#6a3915"/>
<g clip-path="url(#pyrL5)" fill="none" stroke="#8a582a" stroke-width="1.0" opacity="1"><polyline points="306.9,530.9 309.8,531.0 312.7,531.1 315.6,531.4 318.5,531.8 321.3,532.2 324.2,532.8 327.1,533.4 329.9,534.0 332.8,534.8 335.6,535.6 338.4,536.4 341.3,537.3 344.1,538.2 346.9,539.1 349.6,540.1 352.4,541.2 355.1,542.3 357.8,543.6 360.4,545.0 362.8,546.7 365.0,548.8 366.7,551.2 368.0,553.8 369.0,556.6 372.1,564.8"/><polyline points="306.2,532.2 309.0,532.6 311.8,532.9 314.6,533.4 317.5,534.0 320.3,534.6 323.1,535.3 325.9,536.0 328.7,536.9 331.5,537.8 334.3,538.7 337.0,539.7 339.8,540.7 342.6,541.7 345.3,542.8 348.0,543.9 350.7,545.1 353.4,546.3 356.1,547.7 358.6,549.2 361.0,551.0 363.2,553.2 364.9,555.6 366.3,558.2 367.5,560.9 371.0,569.0"/><polyline points="305.3,533.8 308.0,534.3 310.7,534.9 313.4,535.6 316.2,536.4 318.9,537.2 321.6,538.1 324.3,539.0 327.0,540.0 329.7,541.1 332.4,542.2 335.1,543.4 337.7,544.5 340.4,545.8 343.1,547.0 345.7,548.3 348.3,549.6 350.9,551.0 353.5,552.5 356.0,554.2 358.3,556.1 360.4,558.2 362.2,560.7 363.6,563.4 364.9,566.0 368.7,574.0"/><polyline points="304.5,535.1 307.0,535.8 309.6,536.6 312.3,537.5 314.9,538.4 317.6,539.4 320.2,540.4 322.8,541.5 325.4,542.7 328.0,543.9 330.6,545.2 333.2,546.4 335.8,547.7 338.4,549.1 340.9,550.4 343.5,551.8 346.1,553.3 348.6,554.7 351.1,556.4 353.5,558.1 355.8,560.0 357.9,562.3 359.6,564.7 361.1,567.4 362.5,570.0 366.6,577.8"/><polyline points="303.6,536.4 306.0,537.3 308.5,538.3 311.1,539.4 313.6,540.4 316.2,541.6 318.7,542.8 321.2,544.0 323.8,545.3 326.3,546.6 328.8,548.0 331.3,549.4 333.7,550.8 336.2,552.3 338.7,553.8 341.2,555.3 343.7,556.8 346.1,558.4 348.5,560.1 350.9,561.9 353.1,563.9 355.2,566.2 356.9,568.7 358.5,571.3 359.9,573.8 364.3,581.4"/><polyline points="302.7,537.7 305.0,538.8 307.4,540.0 309.8,541.2 312.3,542.4 314.7,543.7 317.2,545.0 319.6,546.4 322.0,547.9 324.4,549.3 326.8,550.8 329.2,552.4 331.6,553.9 334.0,555.5 336.4,557.1 338.8,558.7 341.2,560.3 343.6,562.0 345.9,563.8 348.2,565.7 350.4,567.8 352.4,570.1 354.1,572.5 355.7,575.1 357.3,577.6 362.0,584.9"/><polyline points="301.7,539.1 303.9,540.5 306.1,541.9 308.4,543.3 310.7,544.7 313.0,546.2 315.4,547.7 317.7,549.2 320.0,550.8 322.3,552.5 324.5,554.1 326.8,555.8 329.1,557.5 331.4,559.2 333.7,561.0 335.9,562.7 338.2,564.5 340.5,566.3 342.7,568.2 344.9,570.2 347.0,572.4 348.9,574.7 350.6,577.2 352.2,579.8 353.8,582.2 358.7,589.5"/><polyline points="300.8,540.4 302.8,542.0 305.0,543.5 307.1,545.1 309.3,546.7 311.6,548.3 313.8,549.9 316.0,551.6 318.2,553.4 320.4,555.1 322.6,556.9 324.7,558.7 326.9,560.5 329.1,562.4 331.3,564.2 333.5,566.1 335.6,568.0 337.8,569.9 340.0,571.9 342.1,573.9 344.1,576.1 346.0,578.5 347.7,581.0 349.3,583.5 351.1,585.9 356.2,592.9"/><polyline points="299.8,541.7 301.8,543.4 303.8,545.1 305.9,546.9 308.0,548.6 310.1,550.4 312.2,552.2 314.3,554.0 316.4,555.9 318.5,557.8 320.6,559.7 322.6,561.6 324.7,563.5 326.8,565.5 328.9,567.4 331.0,569.4 333.1,571.4 335.1,573.4 337.2,575.5 339.3,577.6 341.2,579.8 343.0,582.2 344.8,584.7 346.4,587.2 348.2,589.5 353.7,596.3"/><polyline points="298.9,542.9 300.7,544.9 302.6,546.8 304.6,548.7 306.6,550.6 308.6,552.5 310.6,554.4 312.6,556.4 314.6,558.4 316.6,560.4 318.5,562.4 320.5,564.4 322.5,566.5 324.5,568.6 326.5,570.6 328.5,572.7 330.4,574.8 332.4,576.9 334.4,579.0 336.4,581.2 338.3,583.5 340.0,585.9 341.7,588.4 343.4,590.9 345.3,593.1 351.0,599.7"/><polyline points="298.0,544.2 299.6,546.3 301.4,548.4 303.2,550.4 305.1,552.5 307.0,554.5 308.9,556.6 310.8,558.7 312.7,560.8 314.6,562.9 316.4,565.1 318.3,567.3 320.2,569.4 322.1,571.6 324.0,573.7 325.8,575.9 327.7,578.1 329.6,580.3 331.5,582.5 333.4,584.8 335.2,587.1 336.9,589.6 338.6,592.1 340.3,594.5 342.3,596.6 348.3,603.0"/><polyline points="296.8,545.5 298.3,547.8 299.9,550.1 301.6,552.3 303.3,554.5 305.1,556.8 306.8,559.0 308.6,561.2 310.3,563.5 312.1,565.8 313.8,568.1 315.5,570.4 317.2,572.7 319.0,574.9 320.7,577.2 322.5,579.5 324.2,581.8 326.0,584.1 327.8,586.5 329.5,588.8 331.2,591.2 332.9,593.7 334.5,596.2 336.2,598.6 338.2,600.6 344.3,606.8"/><polyline points="295.7,546.6 297.1,549.1 298.5,551.5 300.1,553.8 301.7,556.2 303.3,558.5 304.9,560.8 306.5,563.2 308.1,565.5 309.7,567.9 311.3,570.3 312.9,572.7 314.5,575.0 316.1,577.4 317.7,579.8 319.3,582.1 320.9,584.5 322.6,586.9 324.2,589.2 325.9,591.6 327.5,594.0 329.0,596.5 330.6,598.9 332.3,601.3 334.4,603.2 340.7,609.1"/></g>
<path d="M294.0,534.0 C296.0,531.2 300.0,530.0 306.0,529.5 C312.0,529.0 321.0,529.2 330.0,531.0 C339.0,532.8 353.5,536.5 360.0,540.0 C366.5,543.5 368.0,548.0 369.0,552.0 C370.0,556.0 368.5,559.0 366.0,564.0 C363.5,569.0 358.5,576.0 354.0,582.0 C349.5,588.0 343.0,596.5 339.0,600.0 C335.0,603.5 333.0,604.5 330.0,603.0 C327.0,601.5 325.0,597.0 321.0,591.0 C317.0,585.0 310.5,574.5 306.0,567.0 C301.5,559.5 296.0,551.5 294.0,546.0 C292.0,540.5 292.0,536.8 294.0,534.0Z" fill="none" stroke="#5a2c0c" stroke-width="3" clip-path="url(#pyrL5)" opacity="0.75" filter="url(#blur1)"/>
<clipPath id="pyrL6"><path d="M249.0,535.5 C253.0,534.2 260.0,533.2 264.0,535.5 C268.0,537.8 270.0,542.2 273.0,549.0 C276.0,555.8 280.0,567.5 282.0,576.0 C284.0,584.5 286.0,595.0 285.0,600.0 C284.0,605.0 282.0,605.2 276.0,606.0 C270.0,606.8 257.0,607.0 249.0,604.5 C241.0,602.0 232.2,595.8 228.0,591.0 C223.8,586.2 223.0,581.5 223.5,576.0 C224.0,570.5 228.2,563.5 231.0,558.0 C233.8,552.5 237.0,546.8 240.0,543.0 C243.0,539.2 245.0,536.8 249.0,535.5Z"/></clipPath>
<path d="M249.0,535.5 C253.0,534.2 260.0,533.2 264.0,535.5 C268.0,537.8 270.0,542.2 273.0,549.0 C276.0,555.8 280.0,567.5 282.0,576.0 C284.0,584.5 286.0,595.0 285.0,600.0 C284.0,605.0 282.0,605.2 276.0,606.0 C270.0,606.8 257.0,607.0 249.0,604.5 C241.0,602.0 232.2,595.8 228.0,591.0 C223.8,586.2 223.0,581.5 223.5,576.0 C224.0,570.5 228.2,563.5 231.0,558.0 C233.8,552.5 237.0,546.8 240.0,543.0 C243.0,539.2 245.0,536.8 249.0,535.5Z" fill="#6a3915"/>
<g clip-path="url(#pyrL6)" fill="none" stroke="#8a582a" stroke-width="1.0" opacity="1"><polyline points="262.1,536.7 264.4,538.4 266.2,540.7 267.6,543.3 268.9,546.0 270.0,548.8 271.1,551.6 272.2,554.4 273.2,557.3 274.1,560.1 275.0,563.0 275.9,565.9 276.7,568.8 277.5,571.7 278.3,574.6 279.0,577.6 279.6,580.5 280.2,583.5 280.8,586.5 281.3,589.5 281.8,592.5 282.1,595.5 282.4,598.5 282.6,601.6 282.4,604.6 281.8,613.7"/><polyline points="260.4,537.6 262.4,539.4 264.0,541.7 265.2,544.3 266.3,547.1 267.2,549.9 268.2,552.7 269.0,555.5 269.9,558.4 270.6,561.2 271.4,564.1 272.1,567.0 272.8,569.9 273.4,572.9 274.1,575.8 274.6,578.8 275.1,581.7 275.6,584.7 276.0,587.7 276.4,590.7 276.8,593.7 277.0,596.7 277.2,599.8 277.3,602.8 277.1,605.9 276.4,615.0"/><polyline points="258.5,538.3 260.2,540.2 261.4,542.6 262.4,545.2 263.2,547.9 263.9,550.7 264.6,553.5 265.3,556.3 265.9,559.1 266.4,562.0 267.0,564.9 267.5,567.8 268.0,570.7 268.4,573.6 268.8,576.5 269.2,579.5 269.5,582.4 269.8,585.4 270.1,588.3 270.3,591.3 270.5,594.3 270.6,597.3 270.6,600.3 270.6,603.4 270.3,606.4 269.3,615.5"/><polyline points="256.8,539.0 258.2,540.9 259.2,543.3 259.9,545.9 260.5,548.6 261.1,551.3 261.6,554.1 262.0,556.9 262.5,559.7 262.9,562.5 263.2,565.4 263.6,568.3 263.9,571.1 264.2,574.0 264.5,576.9 264.7,579.8 264.9,582.7 265.0,585.6 265.2,588.6 265.3,591.5 265.3,594.5 265.3,597.5 265.3,600.5 265.2,603.5 264.8,606.5 263.7,615.5"/><polyline points="255.1,539.6 256.2,541.6 257.0,543.9 257.5,546.5 257.9,549.2 258.2,551.9 258.5,554.6 258.8,557.4 259.1,560.1 259.3,562.9 259.5,565.7 259.7,568.6 259.9,571.4 260.0,574.2 260.2,577.1 260.2,580.0 260.3,582.8 260.3,585.7 260.3,588.6 260.2,591.5 260.2,594.4 260.1,597.3 260.0,600.3 259.8,603.3 259.4,606.2 258.1,615.2"/><polyline points="253.5,540.2 254.2,542.1 254.7,544.5 255.0,547.0 255.2,549.6 255.4,552.3 255.5,555.0 255.6,557.7 255.7,560.4 255.8,563.1 255.8,565.9 255.9,568.7 255.9,571.4 255.9,574.2 255.8,577.0 255.8,579.8 255.7,582.6 255.5,585.5 255.4,588.3 255.2,591.1 255.1,594.0 254.9,596.9 254.6,599.8 254.4,602.7 253.9,605.6 252.6,614.4"/><polyline points="251.6,540.5 252.0,542.5 252.2,544.8 252.3,547.2 252.2,549.7 252.1,552.3 252.0,554.9 251.9,557.5 251.8,560.2 251.7,562.8 251.5,565.5 251.3,568.2 251.2,570.8 251.0,573.5 250.8,576.2 250.5,578.9 250.2,581.7 249.9,584.4 249.6,587.1 249.3,589.9 248.9,592.6 248.6,595.4 248.2,598.2 247.9,601.0 247.3,603.9 245.8,612.4"/><polyline points="250.0,540.8 250.1,542.7 250.1,544.9 249.9,547.3 249.7,549.7 249.4,552.2 249.2,554.7 248.9,557.2 248.6,559.7 248.3,562.2 248.0,564.8 247.7,567.4 247.4,570.0 247.1,572.5 246.7,575.1 246.3,577.7 245.9,580.3 245.5,582.9 245.1,585.6 244.6,588.2 244.2,590.8 243.8,593.5 243.3,596.2 242.9,598.9 242.4,601.7 240.7,609.8"/><polyline points="248.4,541.0 248.3,542.9 248.0,545.0 247.7,547.2 247.3,549.5 246.8,551.8 246.4,554.2 246.0,556.6 245.6,559.0 245.1,561.4 244.7,563.9 244.2,566.3 243.8,568.8 243.3,571.2 242.9,573.7 242.3,576.2 241.8,578.6 241.3,581.1 240.8,583.6 240.2,586.1 239.7,588.6 239.2,591.2 238.7,593.7 238.2,596.3 237.6,598.9 235.9,606.7"/><polyline points="246.9,541.1 246.5,542.9 246.1,544.9 245.5,547.0 244.9,549.2 244.3,551.4 243.8,553.6 243.2,555.9 242.6,558.1 242.1,560.4 241.5,562.7 240.9,565.0 240.4,567.3 239.8,569.6 239.2,572.0 238.6,574.3 237.9,576.6 237.3,578.9 236.7,581.3 236.0,583.6 235.4,586.0 234.8,588.4 234.3,590.8 233.8,593.3 233.2,595.8 231.5,603.1"/><polyline points="245.4,541.1 244.8,542.9 244.2,544.7 243.4,546.7 242.7,548.7 242.0,550.8 241.3,552.8 240.5,554.9 239.9,557.0 239.2,559.2 238.5,561.3 237.8,563.4 237.1,565.6 236.4,567.8 235.7,569.9 235.0,572.1 234.3,574.2 233.6,576.4 232.9,578.6 232.2,580.8 231.5,583.0 230.8,585.3 230.2,587.5 229.7,589.8 229.1,592.1 227.4,599.0"/><polyline points="244.0,540.8 243.1,542.4 242.3,544.1 241.4,545.9 240.5,547.7 239.6,549.5 238.8,551.4 237.9,553.2 237.1,555.1 236.3,557.0 235.5,558.9 234.7,560.9 233.9,562.8 233.1,564.7 232.3,566.7 231.5,568.6 230.7,570.6 229.9,572.5 229.1,574.5 228.3,576.5 227.6,578.4 226.9,580.5 226.2,582.5 225.6,584.6 225.1,586.7 223.4,592.9"/><polyline points="243.0,540.6 242.0,542.0 241.0,543.6 240.0,545.1 239.0,546.7 238.1,548.3 237.2,550.0 236.3,551.6 235.5,553.3 234.6,555.0 233.8,556.7 233.0,558.4 232.2,560.2 231.4,561.9 230.6,563.6 229.7,565.3 228.9,567.1 228.1,568.8 227.3,570.5 226.5,572.3 225.8,574.1 225.1,575.9 224.5,577.7 224.0,579.6 223.5,581.5 222.2,587.1"/></g>
<path d="M249.0,535.5 C253.0,534.2 260.0,533.2 264.0,535.5 C268.0,537.8 270.0,542.2 273.0,549.0 C276.0,555.8 280.0,567.5 282.0,576.0 C284.0,584.5 286.0,595.0 285.0,600.0 C284.0,605.0 282.0,605.2 276.0,606.0 C270.0,606.8 257.0,607.0 249.0,604.5 C241.0,602.0 232.2,595.8 228.0,591.0 C223.8,586.2 223.0,581.5 223.5,576.0 C224.0,570.5 228.2,563.5 231.0,558.0 C233.8,552.5 237.0,546.8 240.0,543.0 C243.0,539.2 245.0,536.8 249.0,535.5Z" fill="none" stroke="#5a2c0c" stroke-width="3" clip-path="url(#pyrL6)" opacity="0.75" filter="url(#blur1)"/>
<ellipse cx="239.0" cy="249.3" rx="2.6" ry="2.2" fill="#1a1cec" stroke="#9890f0" stroke-opacity="0.5" stroke-width="0.8"/>
<ellipse cx="290.5" cy="246.3" rx="2.6" ry="2.2" fill="#1a1cec" stroke="#9890f0" stroke-opacity="0.5" stroke-width="0.8"/>
<ellipse cx="292.0" cy="260.0" rx="2" ry="2.2" fill="#cc160c" stroke="#f07050" stroke-opacity="0.5" stroke-width="0.8"/>
<ellipse cx="271.2" cy="263.7" rx="2.2" ry="1.9" fill="#1a1cec" stroke="#9890f0" stroke-opacity="0.5" stroke-width="0.8"/>
<ellipse cx="320.7" cy="264.5" rx="2.4" ry="2.2" fill="#1a1cec" stroke="#9890f0" stroke-opacity="0.5" stroke-width="0.8"/>
<ellipse cx="222.5" cy="279.6" rx="2.2" ry="2.4" fill="#cc160c" stroke="#f07050" stroke-opacity="0.5" stroke-width="0.8"/>
<ellipse cx="320.5" cy="282.5" rx="2" ry="2.2" fill="#cc160c" stroke="#f07050" stroke-opacity="0.5" stroke-width="0.8"/>
<ellipse cx="314.5" cy="293.7" rx="2.2" ry="2.6" fill="#1a1cec" stroke="#9890f0" stroke-opacity="0.5" stroke-width="0.8"/>
<ellipse cx="319.2" cy="299.5" rx="2" ry="2" fill="#cc160c" stroke="#f07050" stroke-opacity="0.5" stroke-width="0.8"/>
<ellipse cx="361.2" cy="297.0" rx="2.4" ry="2.2" fill="#1a1cec" stroke="#9890f0" stroke-opacity="0.5" stroke-width="0.8"/>
<ellipse cx="345.7" cy="304.5" rx="3.6" ry="4" fill="#1a1cec" stroke="#9890f0" stroke-opacity="0.5" stroke-width="0.8"/>
<ellipse cx="372.0" cy="308.0" rx="2" ry="1.6" fill="#cc160c" stroke="#f07050" stroke-opacity="0.5" stroke-width="0.8"/>
<ellipse cx="193.0" cy="315.0" rx="2.2" ry="2" fill="#1a1cec" stroke="#9890f0" stroke-opacity="0.5" stroke-width="0.8"/>
<ellipse cx="184.0" cy="340.7" rx="1.8" ry="1.8" fill="#cc160c" stroke="#f07050" stroke-opacity="0.5" stroke-width="0.8"/>
<ellipse cx="195.7" cy="363.0" rx="2.4" ry="2" fill="#1a1cec" stroke="#9890f0" stroke-opacity="0.5" stroke-width="0.8"/>
<ellipse cx="195.0" cy="380.5" rx="2.4" ry="2.4" fill="#cc160c" stroke="#f07050" stroke-opacity="0.5" stroke-width="0.8"/>
<ellipse cx="390.0" cy="354.5" rx="1.8" ry="1.8" fill="#cc160c" stroke="#f07050" stroke-opacity="0.5" stroke-width="0.8"/>
<ellipse cx="343.2" cy="370.5" rx="2.2" ry="1.6" fill="#cc160c" stroke="#f07050" stroke-opacity="0.5" stroke-width="0.8"/>
<ellipse cx="402.0" cy="375.7" rx="2.4" ry="2.2" fill="#1a1cec" stroke="#9890f0" stroke-opacity="0.5" stroke-width="0.8"/>
<ellipse cx="385.7" cy="396.2" rx="4.6" ry="5.6" fill="#cc160c" stroke="#f07050" stroke-opacity="0.5" stroke-width="0.8"/>
<ellipse cx="389.0" cy="410.0" rx="4.6" ry="5.4" fill="#1a1cec" stroke="#9890f0" stroke-opacity="0.5" stroke-width="0.8"/>
<ellipse cx="397.5" cy="427.5" rx="1.5" ry="1.5" fill="#cc160c" stroke="#f07050" stroke-opacity="0.5" stroke-width="0.8"/>
<ellipse cx="415.0" cy="430.7" rx="2.4" ry="2" fill="#1a1cec" stroke="#9890f0" stroke-opacity="0.5" stroke-width="0.8"/>
<ellipse cx="392.5" cy="468.0" rx="4.6" ry="5.6" fill="#cc160c" stroke="#f07050" stroke-opacity="0.5" stroke-width="0.8"/>
<ellipse cx="408.0" cy="467.5" rx="2" ry="2.2" fill="#cc160c" stroke="#f07050" stroke-opacity="0.5" stroke-width="0.8"/>
<ellipse cx="215.4" cy="504.6" rx="1.6" ry="1.6" fill="#cc160c" stroke="#f07050" stroke-opacity="0.5" stroke-width="0.8"/>
<ellipse cx="227.4" cy="525.6" rx="2.4" ry="2.2" fill="#1a1cec" stroke="#9890f0" stroke-opacity="0.5" stroke-width="0.8"/>
<ellipse cx="226.5" cy="544.5" rx="2" ry="2.2" fill="#cc160c" stroke="#f07050" stroke-opacity="0.5" stroke-width="0.8"/>
<ellipse cx="366.6" cy="534.0" rx="2.4" ry="1.8" fill="#1a1cec" stroke="#9890f0" stroke-opacity="0.5" stroke-width="0.8"/>
<ellipse cx="382.5" cy="549.0" rx="2" ry="2.2" fill="#cc160c" stroke="#f07050" stroke-opacity="0.5" stroke-width="0.8"/>
<ellipse cx="292.5" cy="589.5" rx="1.5" ry="1.5" fill="#cc160c" stroke="#f07050" stroke-opacity="0.5" stroke-width="0.8"/>
<ellipse cx="310.5" cy="592.5" rx="2.2" ry="1.8" fill="#1a1cec" stroke="#9890f0" stroke-opacity="0.5" stroke-width="0.8"/>
<ellipse cx="355.5" cy="594.5" rx="5.2" ry="6" fill="#1a1cec" stroke="#9890f0" stroke-opacity="0.5" stroke-width="0.8"/>
<ellipse cx="241.5" cy="618.0" rx="2.4" ry="2" fill="#1a1cec" stroke="#9890f0" stroke-opacity="0.5" stroke-width="0.8"/>
<ellipse cx="262.5" cy="622.5" rx="2.2" ry="1.8" fill="#cc160c" stroke="#f07050" stroke-opacity="0.5" stroke-width="0.8"/>
<ellipse cx="329.0" cy="622.0" rx="2" ry="1.8" fill="#cc160c" stroke="#f07050" stroke-opacity="0.5" stroke-width="0.8"/>
<path d="M588.0,469.0 C589.6,465.5 600.3,472.4 604.0,473.0 C607.7,473.6 616.0,475.1 620.0,474.5 C624.0,473.9 633.8,470.3 638.0,468.0 C642.2,465.7 651.8,458.4 656.0,455.0 C660.2,451.6 669.8,442.4 674.0,439.0 C678.2,435.6 688.7,428.1 692.0,426.0 C695.3,423.9 699.0,422.4 702.0,421.0 C705.0,419.6 715.0,413.2 718.0,414.0 C721.0,414.8 727.1,418.9 728.0,428.0 C728.9,437.1 727.9,484.5 726.0,492.0 C724.1,499.5 717.4,492.3 712.0,492.5 C706.6,492.7 687.0,493.5 680.0,494.0 C673.0,494.5 659.0,496.1 652.0,497.0 C645.0,497.9 627.2,500.9 620.0,501.6 C612.8,502.3 593.7,506.8 590.0,503.0 C586.3,499.2 586.4,472.5 588.0,469.0Z" fill="url(#art)"/>
<ellipse cx="587" cy="485.5" rx="7" ry="17" fill="#e83418" stroke="#d01808" stroke-width="1.2"/>
<ellipse cx="589" cy="485.5" rx="4" ry="13.5" fill="#d81c0a"/>
<path d="M840.0,255.0 C842.7,256.3 849.3,258.8 856.0,263.0 C862.7,267.2 872.0,273.5 880.0,280.0 C888.0,286.5 898.3,295.3 904.0,302.0 C909.7,308.7 909.5,311.0 914.0,320.0 C918.5,329.0 927.2,345.0 931.0,356.0 C934.8,367.0 935.3,375.8 937.0,386.0 C938.7,396.2 940.2,406.3 941.0,417.0 C941.8,427.7 942.8,441.2 942.0,450.0 C941.2,458.8 937.6,463.3 936.0,470.0 C934.4,476.7 933.2,483.8 932.5,490.0 C931.8,496.2 931.9,500.3 932.0,507.0 C932.1,513.7 933.7,522.2 933.4,530.0 C933.1,537.8 932.5,546.0 930.4,554.0 C928.3,562.0 923.8,570.8 920.8,578.0 C917.8,585.2 915.9,589.8 912.4,597.0 C908.9,604.2 908.1,612.5 900.0,621.0 C891.9,629.5 876.0,642.2 864.0,648.0 C852.0,653.8 841.5,656.0 828.0,656.0 C814.5,656.0 796.5,652.0 783.0,648.0 C769.5,644.0 755.8,637.0 747.0,632.0 C738.2,627.0 732.8,620.3 730.0,618.0 L800,400Z" fill="#3e1c08"/>
<ellipse cx="926" cy="505" rx="10" ry="38" fill="#9a6010" opacity="0.55" filter="url(#blur3)"/>
<path d="M778.0,230.0 C784.8,230.7 795.0,233.7 802.0,236.0 C809.0,238.3 811.2,239.1 820.0,244.0 C828.8,248.9 845.3,258.5 855.0,265.5 C864.7,272.5 871.2,279.4 878.0,286.0 C884.8,292.6 891.1,299.3 895.5,305.0 C899.9,310.7 900.2,311.5 904.5,320.0 C908.8,328.5 917.5,345.0 921.5,356.0 C925.5,367.0 926.9,375.8 928.5,386.0 C930.1,396.2 930.3,407.4 931.0,417.0 C931.7,426.6 933.8,435.8 932.5,443.6 C931.2,451.4 926.4,456.6 923.0,464.0 C919.6,471.4 913.5,480.8 912.0,488.0 C910.5,495.2 912.9,501.0 914.0,507.0 C915.1,513.0 917.2,518.0 918.4,524.0 C919.6,530.0 922.2,536.0 921.4,543.0 C920.6,550.0 916.9,557.6 913.6,566.0 C910.3,574.4 906.9,584.1 901.6,593.6 C896.3,603.1 891.3,615.1 882.0,623.0 C872.7,630.9 858.0,637.2 846.0,641.0 C834.0,644.8 822.0,646.0 810.0,645.8 C798.0,645.5 784.5,642.4 774.0,639.5 C763.5,636.6 756.0,634.6 747.0,628.6 C738.0,622.6 725.8,611.8 720.0,603.4 C714.2,595.0 713.4,586.9 712.0,578.0 C710.6,569.1 711.4,561.3 711.5,550.0 C711.6,538.7 711.8,521.0 712.5,510.0 C713.2,499.0 714.4,491.5 716.0,484.0 C717.6,476.5 721.3,473.7 722.0,465.0 C722.7,456.3 723.0,440.3 720.0,432.0 C717.0,423.7 708.7,421.3 704.0,415.0 C699.3,408.7 695.8,401.5 692.0,394.0 C688.2,386.5 684.1,378.0 681.5,370.0 C678.9,362.0 677.2,353.0 676.5,346.0 C675.8,339.0 676.2,333.5 677.0,328.0 C677.8,322.5 678.0,318.0 681.0,313.0 C684.0,308.0 689.2,303.3 695.0,298.0 C700.8,292.7 711.5,286.3 716.0,281.0 C720.5,275.7 720.0,270.8 722.0,266.0 C724.0,261.2 724.7,256.2 728.0,252.0 C731.3,247.8 736.5,244.3 742.0,241.0 C747.5,237.7 755.0,233.8 761.0,232.0 C767.0,230.2 771.2,229.3 778.0,230.0Z" fill="#c87236" stroke="#eccaa0" stroke-width="5"/>
<path d="M778.0,230.0 C784.8,230.7 795.0,233.7 802.0,236.0 C809.0,238.3 811.2,239.1 820.0,244.0 C828.8,248.9 845.3,258.5 855.0,265.5 C864.7,272.5 871.2,279.4 878.0,286.0 C884.8,292.6 891.1,299.3 895.5,305.0 C899.9,310.7 900.2,311.5 904.5,320.0 C908.8,328.5 917.5,345.0 921.5,356.0 C925.5,367.0 926.9,375.8 928.5,386.0 C930.1,396.2 930.3,407.4 931.0,417.0 C931.7,426.6 933.8,435.8 932.5,443.6 C931.2,451.4 926.4,456.6 923.0,464.0 C919.6,471.4 913.5,480.8 912.0,488.0 C910.5,495.2 912.9,501.0 914.0,507.0 C915.1,513.0 917.2,518.0 918.4,524.0 C919.6,530.0 922.2,536.0 921.4,543.0 C920.6,550.0 916.9,557.6 913.6,566.0 C910.3,574.4 906.9,584.1 901.6,593.6 C896.3,603.1 891.3,615.1 882.0,623.0 C872.7,630.9 858.0,637.2 846.0,641.0 C834.0,644.8 822.0,646.0 810.0,645.8 C798.0,645.5 784.5,642.4 774.0,639.5 C763.5,636.6 756.0,634.6 747.0,628.6 C738.0,622.6 725.8,611.8 720.0,603.4 C714.2,595.0 713.4,586.9 712.0,578.0 C710.6,569.1 711.4,561.3 711.5,550.0 C711.6,538.7 711.8,521.0 712.5,510.0 C713.2,499.0 714.4,491.5 716.0,484.0 C717.6,476.5 721.3,473.7 722.0,465.0 C722.7,456.3 723.0,440.3 720.0,432.0 C717.0,423.7 708.7,421.3 704.0,415.0 C699.3,408.7 695.8,401.5 692.0,394.0 C688.2,386.5 684.1,378.0 681.5,370.0 C678.9,362.0 677.2,353.0 676.5,346.0 C675.8,339.0 676.2,333.5 677.0,328.0 C677.8,322.5 678.0,318.0 681.0,313.0 C684.0,308.0 689.2,303.3 695.0,298.0 C700.8,292.7 711.5,286.3 716.0,281.0 C720.5,275.7 720.0,270.8 722.0,266.0 C724.0,261.2 724.7,256.2 728.0,252.0 C731.3,247.8 736.5,244.3 742.0,241.0 C747.5,237.7 755.0,233.8 761.0,232.0 C767.0,230.2 771.2,229.3 778.0,230.0Z" fill="url(#speck)" opacity="0.6"/>
<path d="M690.0,432.0 C686.0,435.8 679.0,441.8 675.0,446.0 C671.0,450.2 665.9,455.8 663.0,460.0 C660.1,464.2 657.6,469.2 656.0,474.0 C654.4,478.8 653.3,485.6 652.4,492.0 C651.5,498.4 650.5,511.6 650.0,517.0 C649.5,522.4 649.2,522.8 648.8,528.0 C648.3,533.2 647.0,545.7 647.0,552.0 C647.0,558.3 648.1,564.6 648.8,570.0 C649.5,575.4 651.3,583.5 651.8,588.0 C652.3,592.5 651.0,595.2 652.4,600.0 C653.8,604.8 659.3,613.9 661.0,620.0 C662.7,626.1 663.0,634.9 663.6,641.0 C664.2,647.1 665.2,655.9 665.0,661.0 C664.8,666.1 662.5,668.9 662.0,675.0 C661.5,681.1 655.0,698.0 662.0,702.0 C669.0,706.0 701.6,706.0 708.6,702.0 C715.6,698.0 709.2,681.1 708.6,675.0 C708.0,668.9 705.3,666.1 704.5,661.0 C703.7,655.9 703.6,647.1 703.0,641.0 C702.4,634.9 702.2,626.1 700.4,620.0 C698.6,613.9 693.1,604.8 690.8,600.0 C688.5,595.2 686.8,591.5 684.8,588.0 C682.8,584.5 679.0,582.4 677.6,577.0 C676.2,571.6 675.4,559.4 675.2,552.0 C675.0,544.6 675.3,533.2 676.4,528.0 C677.5,522.8 680.8,519.9 682.4,517.0 C684.0,514.1 684.5,512.0 687.0,509.0 C689.5,506.0 695.4,501.1 699.0,497.0 C702.6,492.9 708.1,487.6 711.0,482.0 C713.9,476.4 716.6,467.8 718.0,460.0 C719.4,452.2 722.4,435.9 720.0,430.0 C717.6,424.1 706.5,420.7 702.0,421.0 C697.5,421.3 694.0,428.2 690.0,432.0Z" fill="url(#uret)"/><path d="M690.0,432.0 C686.0,435.8 679.0,441.8 675.0,446.0 C671.0,450.2 665.9,455.8 663.0,460.0 C660.1,464.2 657.6,469.2 656.0,474.0 C654.4,478.8 653.3,485.6 652.4,492.0 C651.5,498.4 650.5,511.6 650.0,517.0 C649.5,522.4 649.2,522.8 648.8,528.0 C648.3,533.2 647.0,545.7 647.0,552.0 C647.0,558.3 648.1,564.6 648.8,570.0 C649.5,575.4 651.3,583.5 651.8,588.0 C652.3,592.5 651.0,595.2 652.4,600.0 C653.8,604.8 659.3,613.9 661.0,620.0 C662.7,626.1 663.0,634.9 663.6,641.0 C664.2,647.1 665.2,655.9 665.0,661.0 C664.8,666.1 662.5,668.9 662.0,675.0 C661.5,681.1 655.0,698.0 662.0,702.0 C669.0,706.0 701.6,706.0 708.6,702.0 C715.6,698.0 709.2,681.1 708.6,675.0 C708.0,668.9 705.3,666.1 704.5,661.0 C703.7,655.9 703.6,647.1 703.0,641.0 C702.4,634.9 702.2,626.1 700.4,620.0 C698.6,613.9 693.1,604.8 690.8,600.0 C688.5,595.2 686.8,591.5 684.8,588.0 C682.8,584.5 679.0,582.4 677.6,577.0 C676.2,571.6 675.4,559.4 675.2,552.0 C675.0,544.6 675.3,533.2 676.4,528.0 C677.5,522.8 680.8,519.9 682.4,517.0 C684.0,514.1 684.5,512.0 687.0,509.0 C689.5,506.0 695.4,501.1 699.0,497.0 C702.6,492.9 708.1,487.6 711.0,482.0 C713.9,476.4 716.6,467.8 718.0,460.0 C719.4,452.2 722.4,435.9 720.0,430.0 C717.6,424.1 706.5,420.7 702.0,421.0 C697.5,421.3 694.0,428.2 690.0,432.0Z" fill="url(#uretv)"/>
<path d="M732.0,345.0 C733.3,340.0 741.2,348.8 745.0,350.0 C748.8,351.2 750.5,350.7 755.0,352.0 C759.5,353.3 767.3,356.0 772.0,358.0 C776.7,360.0 782.3,360.3 783.0,364.0 C783.7,367.7 779.2,375.0 776.0,380.0 C772.8,385.0 761.8,388.5 764.0,394.0 C766.2,399.5 781.3,410.3 789.0,413.0 C796.7,415.7 806.2,408.2 810.0,410.0 C813.8,411.8 813.7,419.0 812.0,424.0 C810.3,429.0 802.3,434.3 800.0,440.0 C797.7,445.7 798.7,452.5 798.0,458.0 C797.3,463.5 794.2,467.7 796.0,473.0 C797.8,478.3 808.3,485.2 809.0,490.0 C809.7,494.8 802.8,498.3 800.0,502.0 C797.2,505.7 792.0,508.7 792.0,512.0 C792.0,515.3 800.5,519.3 800.0,522.0 C799.5,524.7 793.2,525.7 789.0,528.0 C784.8,530.3 779.8,534.0 775.0,536.0 C770.2,538.0 762.2,546.0 760.0,540.0 C757.8,534.0 765.0,509.3 762.0,500.0 C759.0,490.7 752.0,488.7 742.0,484.0 C732.0,479.3 710.0,477.7 702.0,472.0 C694.0,466.3 691.0,459.7 694.0,450.0 C697.0,440.3 712.8,425.7 720.0,414.0 C727.2,402.3 735.0,391.5 737.0,380.0 C739.0,368.5 730.7,350.0 732.0,345.0Z" fill="#966850" filter="url(#blur1)"/>
<path d="M757.0,384.0 C760.0,381.0 767.7,380.0 772.0,382.0 C776.3,384.0 781.7,390.7 783.0,396.0 C784.3,401.3 783.5,410.7 780.0,414.0 C776.5,417.3 766.3,418.3 762.0,416.0 C757.7,413.7 754.8,405.3 754.0,400.0 C753.2,394.7 754.0,387.0 757.0,384.0Z" fill="#aa7656" opacity="0.8" filter="url(#blur1)"/>
<path d="M757.0,430.0 C763.3,426.3 781.5,425.3 790.0,428.0 C798.5,430.7 805.3,439.0 808.0,446.0 C810.7,453.0 809.8,464.7 806.0,470.0 C802.2,475.3 792.7,477.7 785.0,478.0 C777.3,478.3 765.5,476.7 760.0,472.0 C754.5,467.3 752.5,457.0 752.0,450.0 C751.5,443.0 750.7,433.7 757.0,430.0Z" fill="#aa7656" opacity="0.8" filter="url(#blur1)"/>
<path d="M763.0,492.0 C766.7,489.5 777.5,487.8 782.0,490.0 C786.5,492.2 789.3,500.3 790.0,505.0 C790.7,509.7 790.0,515.8 786.0,518.0 C782.0,520.2 770.3,520.2 766.0,518.0 C761.7,515.8 760.5,509.3 760.0,505.0 C759.5,500.7 759.3,494.5 763.0,492.0Z" fill="#aa7656" opacity="0.8" filter="url(#blur1)"/>
<clipPath id="pelclipR"><path d="M737.0,340.0 C726.5,346.7 737.7,370.7 737.0,380.0 C736.3,389.3 735.8,390.3 733.0,396.0 C730.2,401.7 725.2,408.0 720.0,414.0 C714.8,420.0 706.2,426.7 702.0,432.0 C697.8,437.3 696.3,441.7 695.0,446.0 C693.7,450.3 692.8,453.7 694.0,458.0 C695.2,462.3 698.3,468.3 702.0,472.0 C705.7,475.7 709.3,478.0 716.0,480.0 C722.7,482.0 735.3,482.3 742.0,484.0 C748.7,485.7 751.3,487.3 756.0,490.0 C760.7,492.7 762.7,498.3 770.0,500.0 C777.3,501.7 795.0,526.7 800.0,500.0 C805.0,473.3 810.5,366.7 800.0,340.0 C789.5,313.3 747.5,333.3 737.0,340.0Z"/></clipPath>
<g clip-path="url(#pelclipR)"><path d="M712.0,420.0 C706.0,427.0 694.0,439.0 690.0,446.0 C686.0,453.0 686.3,456.7 688.0,462.0 C689.7,467.3 695.0,474.0 700.0,478.0 C705.0,482.0 711.0,484.3 718.0,486.0 C725.0,487.7 735.0,486.7 742.0,488.0 C749.0,489.3 755.0,496.7 760.0,494.0 C765.0,491.3 771.0,481.0 772.0,472.0 C773.0,463.0 770.7,450.0 766.0,440.0 C761.3,430.0 750.7,418.0 744.0,412.0 C737.3,406.0 731.3,402.7 726.0,404.0 C720.7,405.3 718.0,413.0 712.0,420.0Z" fill="url(#pelR)" filter="url(#blur3)"/></g>
<path d="M712.0,480.0 C712.0,479.7 734.7,484.3 742.0,486.0 C749.3,487.7 752.3,485.7 756.0,490.0 C759.7,494.3 763.7,504.0 764.0,512.0 C764.3,520.0 761.0,532.0 758.0,538.0 C755.0,544.0 749.0,546.7 746.0,548.0 C743.0,549.3 740.0,550.7 740.0,546.0 C740.0,541.3 744.7,527.7 746.0,520.0 C747.3,512.3 748.7,505.3 748.0,500.0 C747.3,494.7 748.0,491.3 742.0,488.0 C736.0,484.7 712.0,480.3 712.0,480.0Z" fill="url(#sinv)"/>
<path d="M720.0,341.0 C720.8,338.2 730.0,339.8 733.0,343.0 C736.0,346.2 737.2,353.8 738.0,360.0 C738.8,366.2 738.7,373.8 738.0,380.0 C737.3,386.2 737.0,391.2 734.0,397.0 C731.0,402.8 723.7,411.2 720.0,415.0 C716.3,418.8 711.7,422.8 712.0,420.0 C712.3,417.2 719.2,405.0 722.0,398.0 C724.8,391.0 728.0,384.3 729.0,378.0 C730.0,371.7 729.5,366.2 728.0,360.0 C726.5,353.8 719.2,343.8 720.0,341.0Z" fill="url(#sin)"/>
<path d="M745.0,316.0 C746.7,314.7 753.7,316.0 756.0,318.0 C758.3,320.0 758.8,325.0 759.0,328.0 C759.2,331.0 758.5,335.0 757.0,336.0 C755.5,337.0 751.8,335.7 750.0,334.0 C748.2,332.3 746.8,329.0 746.0,326.0 C745.2,323.0 743.3,317.3 745.0,316.0Z" fill="url(#sin)"/>
<path d="M786.0,329.0 C787.8,328.7 788.0,331.3 790.0,334.0 C792.0,336.7 796.8,341.7 798.0,345.0 C799.2,348.3 799.5,352.5 797.0,354.0 C794.5,355.5 786.2,355.3 783.0,354.0 C779.8,352.7 778.7,349.0 778.0,346.0 C777.3,343.0 777.7,338.8 779.0,336.0 C780.3,333.2 784.2,329.3 786.0,329.0Z" fill="url(#sin)"/>
<path d="M811.0,369.0 C813.3,368.3 802.5,372.2 803.0,376.0 C803.5,379.8 810.5,387.7 814.0,392.0 C817.5,396.3 825.8,399.7 824.0,402.0 C822.2,404.3 808.8,406.2 803.0,406.0 C797.2,405.8 792.2,403.7 789.0,401.0 C785.8,398.3 784.0,393.5 784.0,390.0 C784.0,386.5 784.5,383.5 789.0,380.0 C793.5,376.5 808.7,369.7 811.0,369.0Z" fill="url(#sin)"/>
<path d="M820.0,424.0 C821.5,424.3 813.3,426.5 812.0,430.0 C810.7,433.5 810.7,439.7 812.0,445.0 C813.3,450.3 817.0,458.5 820.0,462.0 C823.0,465.5 831.3,465.2 830.0,466.0 C828.7,466.8 817.3,468.0 812.0,467.0 C806.7,466.0 800.8,464.2 798.0,460.0 C795.2,455.8 794.2,447.3 795.0,442.0 C795.8,436.7 798.8,431.0 803.0,428.0 C807.2,425.0 818.5,423.7 820.0,424.0Z" fill="url(#sin)"/>
<path d="M811.0,496.0 C812.8,496.3 805.3,500.0 805.0,503.0 C804.7,506.0 807.3,510.7 809.0,514.0 C810.7,517.3 817.0,521.7 815.0,523.0 C813.0,524.3 801.3,524.0 797.0,522.0 C792.7,520.0 789.5,514.5 789.0,511.0 C788.5,507.5 790.3,503.5 794.0,501.0 C797.7,498.5 809.2,495.7 811.0,496.0Z" fill="url(#sin)"/>
<path d="M778.0,534.0 C778.3,529.0 783.0,530.7 786.0,532.0 C789.0,533.3 793.3,538.7 796.0,542.0 C798.7,545.3 801.3,548.3 802.0,552.0 C802.7,555.7 803.0,562.3 800.0,564.0 C797.0,565.7 787.7,567.0 784.0,562.0 C780.3,557.0 777.7,539.0 778.0,534.0Z" fill="url(#sin)"/>
<path d="M732.0,343.0 C732.8,345.8 736.2,353.8 737.0,360.0 C737.8,366.2 737.7,374.0 737.0,380.0 C736.3,386.0 735.8,390.3 733.0,396.0 C730.2,401.7 725.2,408.0 720.0,414.0 C714.8,420.0 706.2,426.7 702.0,432.0 C697.8,437.3 696.3,441.7 695.0,446.0 C693.7,450.3 692.8,453.7 694.0,458.0 C695.2,462.3 698.3,468.3 702.0,472.0 C705.7,475.7 709.3,478.0 716.0,480.0 C722.7,482.0 735.3,482.3 742.0,484.0 C748.7,485.7 752.7,486.7 756.0,490.0 C759.3,493.3 761.3,499.0 762.0,504.0 C762.7,509.0 761.7,514.7 760.0,520.0 C758.3,525.3 753.8,532.7 752.0,536.0 C750.2,539.3 749.5,539.3 749.0,540.0" fill="none" stroke="#f6efe4" stroke-width="2.2" stroke-linecap="round"/>
<path d="M758.0,319.0 C758.2,320.8 759.8,327.2 759.0,330.0 C758.2,332.8 754.0,335.0 753.0,336.0" fill="none" stroke="#f6efe4" stroke-width="2.2" stroke-linecap="round"/>
<path d="M786.0,328.5 C784.8,329.7 780.4,332.5 779.0,335.6 C777.6,338.7 777.0,343.9 777.8,347.0 C778.5,350.1 780.2,352.8 783.5,354.0 C786.8,355.2 795.2,354.0 797.6,354.0" fill="none" stroke="#f6efe4" stroke-width="2.2" stroke-linecap="round"/>
<path d="M811.8,369.6 C808.0,371.5 793.5,377.5 789.0,381.0 C784.5,384.5 785.0,387.5 785.0,390.8 C785.0,394.1 786.0,398.3 789.0,400.7 C792.0,403.1 797.3,404.8 803.0,405.0 C808.7,405.2 819.7,402.5 823.0,402.0" fill="none" stroke="#f6efe4" stroke-width="2.2" stroke-linecap="round"/>
<path d="M820.0,424.0 C817.2,424.6 807.0,424.6 803.0,427.6 C799.0,430.6 796.7,436.8 796.0,442.0 C795.3,447.2 796.3,455.0 799.0,459.0 C801.7,463.0 806.8,464.8 812.0,466.0 C817.2,467.2 827.0,466.0 830.0,466.0" fill="none" stroke="#f6efe4" stroke-width="2.2" stroke-linecap="round"/>
<path d="M828.8,501.0 C826.0,500.2 817.5,496.0 811.8,496.0 C806.1,496.0 798.6,498.7 794.8,501.0 C791.0,503.3 789.0,506.8 789.0,510.0 C789.0,513.2 791.0,517.6 794.8,520.0 C798.6,522.4 807.9,523.8 811.8,524.5 C815.7,525.2 817.0,524.1 818.0,524.0" fill="none" stroke="#f6efe4" stroke-width="2.2" stroke-linecap="round"/>
<path d="M776.0,538.0 C777.3,537.0 781.0,531.3 784.0,532.0 C787.0,532.7 791.3,539.0 794.0,542.0 C796.7,545.0 799.0,548.7 800.0,550.0" fill="none" stroke="#f6efe4" stroke-width="2.2" stroke-linecap="round"/>
<ellipse cx="722" cy="318" rx="34" ry="28" fill="url(#scar)"/>
<ellipse cx="866" cy="497" rx="66" ry="44" fill="url(#atro)"/>
<radialGradient id="inflg1" gradientUnits="userSpaceOnUse" cx="776.3" cy="313.5" r="44"><stop offset="0" stop-color="#f01e04"/><stop offset="0.45" stop-color="#ec2a08"/><stop offset="1" stop-color="#e04a18" stop-opacity="0.2"/></radialGradient>
<path d="M755.0,272.5 C758.5,269.6 765.8,270.0 772.5,270.0 C779.2,270.0 788.8,270.8 795.0,272.5 C801.2,274.2 806.7,277.5 810.0,280.0 C813.3,282.5 815.4,283.8 815.0,287.5 C814.6,291.2 811.7,297.1 807.5,302.5 C803.3,307.9 795.0,315.4 790.0,320.0 C785.0,324.6 780.8,328.1 777.5,330.0 C774.2,331.9 772.9,332.4 770.0,331.2 C767.1,329.9 762.7,326.9 760.0,322.5 C757.3,318.1 755.2,310.8 753.7,305.0 C752.2,299.2 751.0,292.9 751.2,287.5 C751.4,282.1 751.5,275.4 755.0,272.5Z" fill="url(#inflg1)" filter="url(#blur6)"/>
<clipPath id="pyrR1"><path d="M755.0,272.5 C758.5,269.6 765.8,270.0 772.5,270.0 C779.2,270.0 788.8,270.8 795.0,272.5 C801.2,274.2 806.7,277.5 810.0,280.0 C813.3,282.5 815.4,283.8 815.0,287.5 C814.6,291.2 811.7,297.1 807.5,302.5 C803.3,307.9 795.0,315.4 790.0,320.0 C785.0,324.6 780.8,328.1 777.5,330.0 C774.2,331.9 772.9,332.4 770.0,331.2 C767.1,329.9 762.7,326.9 760.0,322.5 C757.3,318.1 755.2,310.8 753.7,305.0 C752.2,299.2 751.0,292.9 751.2,287.5 C751.4,282.1 751.5,275.4 755.0,272.5Z"/></clipPath>
<g clip-path="url(#pyrR1)" fill="none" stroke="#b41806" stroke-width="0.9" opacity="0.45"><polyline points="762.6,324.0 761.5,322.1 760.6,320.0 759.9,317.9 759.2,315.7 758.6,313.6 758.1,311.4 757.6,309.1 757.1,306.9 756.7,304.6 756.3,302.4 756.0,300.1 755.7,297.9 755.4,295.6 755.2,293.3 755.1,291.0 755.1,288.6 755.2,286.3 755.3,284.0 755.5,281.6 755.8,279.3 756.2,277.0 756.8,274.7 757.7,272.6 759.1,270.7 763.3,265.1"/><polyline points="764.0,324.0 763.1,322.1 762.4,320.0 761.9,317.9 761.4,315.7 761.0,313.5 760.7,311.3 760.3,309.0 760.1,306.8 759.8,304.5 759.6,302.2 759.4,300.0 759.2,297.7 759.1,295.4 759.1,293.1 759.1,290.8 759.2,288.4 759.4,286.1 759.7,283.7 759.9,281.3 760.3,279.0 760.8,276.6 761.4,274.3 762.3,272.1 763.6,270.1 767.6,264.3"/><polyline points="765.6,324.1 765.0,322.1 764.6,320.1 764.3,317.9 764.0,315.8 763.8,313.6 763.7,311.3 763.6,309.1 763.5,306.9 763.5,304.6 763.5,302.4 763.5,300.1 763.5,297.8 763.6,295.5 763.7,293.2 763.9,290.9 764.2,288.5 764.5,286.2 764.9,283.8 765.3,281.4 765.8,279.0 766.4,276.6 767.1,274.3 768.0,272.0 769.3,270.0 773.3,263.9"/><polyline points="767.0,324.2 766.6,322.2 766.4,320.2 766.3,318.0 766.2,315.9 766.2,313.7 766.3,311.5 766.4,309.3 766.5,307.0 766.6,304.8 766.7,302.5 766.9,300.3 767.1,298.0 767.3,295.7 767.6,293.4 767.9,291.1 768.3,288.8 768.8,286.4 769.3,284.0 769.8,281.6 770.3,279.2 770.9,276.8 771.7,274.4 772.6,272.1 773.9,270.0 777.6,263.7"/><polyline points="768.4,324.3 768.3,322.4 768.3,320.3 768.4,318.2 768.5,316.0 768.7,313.9 768.9,311.7 769.1,309.5 769.4,307.3 769.7,305.0 770.0,302.8 770.4,300.5 770.7,298.3 771.1,296.0 771.5,293.7 772.0,291.4 772.5,289.1 773.0,286.7 773.6,284.3 774.2,281.9 774.8,279.5 775.5,277.1 776.3,274.7 777.2,272.4 778.4,270.2 782.0,263.7"/><polyline points="769.8,324.5 769.9,322.5 770.1,320.5 770.4,318.4 770.7,316.3 771.1,314.1 771.5,311.9 771.9,309.7 772.4,307.6 772.8,305.3 773.3,303.1 773.8,300.9 774.3,298.7 774.8,296.4 775.4,294.1 776.0,291.9 776.6,289.5 777.3,287.2 778.0,284.8 778.7,282.4 779.4,280.0 780.1,277.6 780.9,275.1 781.8,272.8 783.0,270.5 786.3,263.9"/><polyline points="771.4,324.7 771.8,322.8 772.2,320.8 772.7,318.7 773.3,316.6 773.9,314.5 774.5,312.3 775.1,310.2 775.8,308.0 776.5,305.8 777.1,303.7 777.8,301.5 778.5,299.3 779.3,297.0 780.0,294.8 780.8,292.5 781.6,290.2 782.4,287.9 783.2,285.6 784.0,283.2 784.8,280.8 785.7,278.3 786.5,275.9 787.5,273.5 788.6,271.2 791.9,264.4"/><polyline points="772.8,324.9 773.4,323.0 774.1,321.1 774.8,319.0 775.5,317.0 776.3,314.9 777.1,312.8 777.9,310.6 778.7,308.5 779.5,306.4 780.4,304.3 781.2,302.1 782.1,299.9 783.0,297.8 783.9,295.5 784.8,293.3 785.7,291.0 786.6,288.7 787.5,286.4 788.4,284.0 789.3,281.6 790.2,279.2 791.1,276.8 792.0,274.4 793.1,272.1 796.2,265.1"/><polyline points="774.2,325.2 775.0,323.4 775.9,321.5 776.8,319.5 777.7,317.5 778.7,315.4 779.6,313.4 780.6,311.3 781.6,309.2 782.6,307.1 783.6,305.0 784.6,302.9 785.6,300.8 786.6,298.7 787.6,296.5 788.7,294.3 789.7,292.1 790.7,289.9 791.8,287.6 792.7,285.2 793.7,282.8 794.6,280.5 795.5,278.0 796.5,275.6 797.5,273.3 800.3,266.2"/><polyline points="775.5,325.6 776.6,323.8 777.6,322.0 778.7,320.1 779.8,318.1 781.0,316.1 782.1,314.1 783.2,312.1 784.4,310.1 785.5,308.1 786.7,306.1 787.9,304.1 789.0,302.0 790.2,299.9 791.3,297.8 792.5,295.7 793.6,293.6 794.7,291.4 795.8,289.1 796.9,286.8 797.9,284.5 798.9,282.1 799.8,279.7 800.8,277.3 801.7,275.0 804.3,267.9"/><polyline points="776.8,326.1 778.1,324.4 779.4,322.6 780.6,320.7 781.9,318.9 783.2,317.0 784.5,315.1 785.8,313.2 787.1,311.2 788.4,309.3 789.7,307.4 791.0,305.4 792.3,303.4 793.6,301.5 794.9,299.4 796.2,297.4 797.4,295.3 798.6,293.2 799.8,291.0 800.9,288.8 802.0,286.5 803.0,284.2 804.0,281.8 804.9,279.5 805.7,277.1 808.1,270.1"/><polyline points="778.3,326.7 779.8,325.1 781.3,323.5 782.7,321.7 784.2,320.0 785.7,318.2 787.2,316.4 788.6,314.6 790.1,312.8 791.6,311.0 793.1,309.2 794.5,307.3 796.0,305.5 797.5,303.6 798.9,301.7 800.3,299.8 801.7,297.8 803.0,295.8 804.3,293.7 805.5,291.6 806.6,289.4 807.7,287.2 808.7,284.9 809.6,282.6 810.4,280.3 812.6,273.3"/><polyline points="779.5,327.3 781.2,325.8 782.8,324.3 784.5,322.6 786.1,321.0 787.7,319.3 789.4,317.6 791.0,316.0 792.6,314.3 794.2,312.6 795.8,310.9 797.4,309.1 799.0,307.4 800.5,305.6 802.1,303.8 803.6,302.0 805.0,300.1 806.4,298.2 807.8,296.2 809.0,294.2 810.2,292.1 811.3,290.0 812.3,287.8 813.2,285.5 813.9,283.2 815.8,276.4"/></g>
<radialGradient id="inflg2" gradientUnits="userSpaceOnUse" cx="817.2" cy="348.9" r="44"><stop offset="0" stop-color="#f01e04"/><stop offset="0.45" stop-color="#ec2a08"/><stop offset="1" stop-color="#e04a18" stop-opacity="0.2"/></radialGradient>
<path d="M830.0,302.5 C833.3,301.7 835.8,302.1 840.0,305.0 C844.2,307.9 850.4,314.2 855.0,320.0 C859.6,325.8 864.6,334.2 867.5,340.0 C870.4,345.8 872.9,351.2 872.5,355.0 C872.1,358.8 869.6,360.6 865.0,362.5 C860.4,364.4 853.3,365.8 845.0,366.2 C836.7,366.6 822.9,366.0 815.0,365.0 C807.1,364.0 800.6,362.9 797.5,360.0 C794.4,357.1 795.0,352.1 796.2,347.5 C797.5,342.9 801.0,338.8 805.0,332.5 C809.0,326.2 815.8,315.0 820.0,310.0 C824.2,305.0 826.7,303.3 830.0,302.5Z" fill="url(#inflg2)" filter="url(#blur6)"/>
<clipPath id="pyrR2"><path d="M830.0,302.5 C833.3,301.7 835.8,302.1 840.0,305.0 C844.2,307.9 850.4,314.2 855.0,320.0 C859.6,325.8 864.6,334.2 867.5,340.0 C870.4,345.8 872.9,351.2 872.5,355.0 C872.1,358.8 869.6,360.6 865.0,362.5 C860.4,364.4 853.3,365.8 845.0,366.2 C836.7,366.6 822.9,366.0 815.0,365.0 C807.1,364.0 800.6,362.9 797.5,360.0 C794.4,357.1 795.0,352.1 796.2,347.5 C797.5,342.9 801.0,338.8 805.0,332.5 C809.0,326.2 815.8,315.0 820.0,310.0 C824.2,305.0 826.7,303.3 830.0,302.5Z"/></clipPath>
<g clip-path="url(#pyrR2)" fill="none" stroke="#b41806" stroke-width="0.9" opacity="0.45"><polyline points="801.0,339.8 802.3,338.2 803.6,336.6 804.9,335.0 806.2,333.4 807.5,331.7 808.8,330.0 810.0,328.4 811.3,326.7 812.6,325.0 813.8,323.4 815.1,321.7 816.4,320.0 817.7,318.4 819.1,316.7 820.4,315.1 821.8,313.4 823.2,311.8 824.6,310.2 826.1,308.7 827.7,307.2 829.3,305.7 831.1,304.4 832.9,303.3 834.8,302.4 840.4,299.6"/><polyline points="801.2,341.1 802.7,339.7 804.2,338.2 805.7,336.7 807.2,335.1 808.6,333.6 810.1,332.0 811.5,330.4 813.0,328.8 814.5,327.2 816.0,325.6 817.4,324.0 818.9,322.4 820.4,320.8 822.0,319.2 823.5,317.6 825.0,316.0 826.6,314.4 828.3,312.8 829.9,311.3 831.7,309.8 833.5,308.3 835.4,306.9 837.3,305.6 839.2,304.5 844.7,301.0"/><polyline points="801.4,342.7 803.1,341.5 804.8,340.2 806.5,338.8 808.2,337.5 809.9,336.0 811.6,334.6 813.2,333.2 814.9,331.7 816.6,330.2 818.3,328.8 820.0,327.3 821.7,325.8 823.4,324.3 825.1,322.8 826.9,321.3 828.6,319.8 830.4,318.3 832.3,316.8 834.1,315.3 836.0,313.8 838.0,312.3 840.0,310.9 842.1,309.5 843.9,308.2 849.5,304.2"/><polyline points="801.5,344.3 803.3,343.2 805.2,342.1 807.0,340.9 808.9,339.6 810.7,338.4 812.6,337.1 814.4,335.7 816.3,334.4 818.1,333.1 820.0,331.7 821.9,330.3 823.7,329.0 825.6,327.6 827.5,326.2 829.4,324.8 831.3,323.3 833.3,321.9 835.3,320.4 837.3,318.9 839.3,317.5 841.4,316.0 843.6,314.5 845.6,313.0 847.5,311.5 852.9,307.0"/><polyline points="801.4,345.9 803.4,345.0 805.4,344.0 807.5,343.0 809.5,341.9 811.5,340.7 813.5,339.6 815.5,338.4 817.5,337.2 819.6,336.0 821.6,334.7 823.6,333.5 825.6,332.2 827.7,330.9 829.7,329.6 831.8,328.3 833.9,327.0 836.0,325.6 838.1,324.2 840.3,322.8 842.5,321.3 844.7,319.8 846.9,318.3 849.0,316.7 850.8,315.1 856.1,310.0"/><polyline points="801.4,347.5 803.5,346.8 805.7,346.0 807.9,345.1 810.0,344.2 812.2,343.2 814.4,342.2 816.5,341.1 818.7,340.0 820.9,338.9 823.1,337.8 825.3,336.7 827.5,335.6 829.7,334.4 831.9,333.2 834.1,332.0 836.3,330.7 838.6,329.4 840.8,328.1 843.1,326.7 845.4,325.3 847.8,323.8 850.1,322.3 852.2,320.6 854.0,318.7 859.1,313.1"/><polyline points="801.5,349.3 803.7,348.9 806.1,348.3 808.4,347.6 810.7,346.8 813.1,346.0 815.4,345.2 817.8,344.3 820.1,343.4 822.5,342.5 824.8,341.5 827.2,340.6 829.6,339.6 832.0,338.6 834.3,337.5 836.7,336.4 839.1,335.3 841.5,334.1 844.0,332.9 846.4,331.6 848.9,330.3 851.3,328.8 853.7,327.3 856.0,325.6 857.6,323.6 862.6,317.6"/><polyline points="801.3,351.0 803.7,350.8 806.2,350.4 808.7,349.8 811.2,349.2 813.6,348.6 816.1,347.9 818.6,347.2 821.1,346.4 823.6,345.6 826.1,344.8 828.6,344.0 831.1,343.1 833.6,342.2 836.2,341.3 838.7,340.3 841.2,339.3 843.8,338.2 846.3,337.1 848.9,335.9 851.4,334.6 854.0,333.1 856.5,331.6 858.7,329.7 860.3,327.6 865.1,321.1"/><polyline points="801.2,352.7 803.7,352.7 806.3,352.4 808.9,352.1 811.5,351.7 814.1,351.2 816.8,350.6 819.4,350.1 822.0,349.5 824.7,348.8 827.3,348.1 829.9,347.5 832.6,346.7 835.2,346.0 837.9,345.2 840.6,344.3 843.2,343.4 845.9,342.4 848.6,341.3 851.2,340.2 853.9,338.9 856.5,337.5 859.1,336.0 861.4,334.0 862.9,331.7 867.5,324.7"/><polyline points="801.0,354.4 803.6,354.6 806.4,354.6 809.1,354.4 811.8,354.1 814.6,353.8 817.4,353.4 820.1,353.0 822.9,352.5 825.6,352.0 828.4,351.5 831.2,351.0 834.0,350.4 836.8,349.8 839.5,349.1 842.3,348.3 845.1,347.5 847.9,346.6 850.7,345.6 853.5,344.6 856.2,343.3 859.0,342.0 861.6,340.4 863.9,338.4 865.3,335.9 869.6,328.5"/><polyline points="800.8,356.1 803.6,356.5 806.4,356.7 809.3,356.7 812.1,356.6 815.0,356.4 817.9,356.2 820.8,356.0 823.7,355.7 826.6,355.3 829.5,354.9 832.4,354.5 835.3,354.1 838.2,353.6 841.1,353.0 844.0,352.4 846.9,351.7 849.8,350.9 852.7,350.0 855.6,349.0 858.5,347.9 861.3,346.5 864.0,344.9 866.2,342.8 867.6,340.2 871.6,332.3"/><polyline points="800.7,358.0 803.5,358.7 806.5,359.1 809.5,359.3 812.5,359.4 815.5,359.5 818.5,359.5 821.6,359.4 824.6,359.3 827.6,359.2 830.7,359.0 833.7,358.7 836.8,358.5 839.8,358.2 842.8,357.8 845.9,357.3 848.9,356.8 852.0,356.1 855.0,355.3 858.0,354.5 861.0,353.4 863.9,352.1 866.6,350.5 868.9,348.4 870.2,345.7 874.0,337.4"/><polyline points="800.4,359.8 803.3,360.7 806.4,361.3 809.5,361.7 812.6,362.0 815.7,362.2 818.8,362.4 822.0,362.5 825.1,362.6 828.3,362.6 831.4,362.5 834.6,362.5 837.7,362.3 840.8,362.2 844.0,361.9 847.1,361.6 850.3,361.1 853.4,360.6 856.5,359.9 859.6,359.1 862.6,358.1 865.6,356.9 868.4,355.3 870.7,353.1 871.9,350.2 875.4,341.6"/></g>
<path d="M821.0,403.6 C822.9,399.5 826.5,394.6 830.0,390.0 C833.5,385.4 837.5,379.2 841.8,376.0 C846.1,372.8 851.0,372.3 856.0,371.0 C861.0,369.7 867.6,368.1 871.5,368.0 C875.4,367.9 876.7,368.4 879.3,370.4 C881.9,372.4 885.0,375.2 887.0,380.0 C889.0,384.8 889.9,392.9 891.4,399.0 C892.9,405.1 895.1,411.2 895.8,416.7 C896.5,422.2 896.7,428.3 895.8,432.0 C894.9,435.7 893.3,437.9 890.2,438.7 C887.1,439.4 883.8,437.8 877.0,436.5 C870.2,435.2 856.9,432.9 849.6,431.0 C842.3,429.1 838.1,428.1 833.0,425.4 C827.9,422.6 820.7,418.1 818.7,414.5 C816.7,410.9 819.1,407.7 821.0,403.6Z" fill="#e0c828" filter="url(#blur3)"/>
<path d="M821.0,403.6 C822.9,399.5 826.5,394.6 830.0,390.0 C833.5,385.4 837.5,379.2 841.8,376.0 C846.1,372.8 851.0,372.3 856.0,371.0 C861.0,369.7 867.6,368.1 871.5,368.0 C875.4,367.9 876.7,368.4 879.3,370.4 C881.9,372.4 885.0,375.2 887.0,380.0 C889.0,384.8 889.9,392.9 891.4,399.0 C892.9,405.1 895.1,411.2 895.8,416.7 C896.5,422.2 896.7,428.3 895.8,432.0 C894.9,435.7 893.3,437.9 890.2,438.7 C887.1,439.4 883.8,437.8 877.0,436.5 C870.2,435.2 856.9,432.9 849.6,431.0 C842.3,429.1 838.1,428.1 833.0,425.4 C827.9,422.6 820.7,418.1 818.7,414.5 C816.7,410.9 819.1,407.7 821.0,403.6Z" fill="url(#pus)"/>
<path d="M830.0,390.0 C832.0,387.7 837.5,379.2 841.8,376.0 C846.1,372.8 851.0,372.3 856.0,371.0 C861.0,369.7 867.6,368.1 871.5,368.0 C875.4,367.9 876.7,368.4 879.3,370.4 C881.9,372.4 885.0,375.2 887.0,380.0 C889.0,384.8 889.9,392.9 891.4,399.0 C892.9,405.1 895.1,411.2 895.8,416.7 C896.5,422.2 896.7,428.3 895.8,432.0 C894.9,435.7 893.3,437.9 890.2,438.7 C887.1,439.4 883.8,437.8 877.0,436.5 C870.2,435.2 856.9,432.9 849.6,431.0 C842.3,429.1 835.8,426.3 833.0,425.4" fill="none" stroke="#6a3810" stroke-width="0.9"/>
<ellipse cx="853" cy="390" rx="18" ry="10" fill="#f8ec80" opacity="0.5" filter="url(#blur3)"/>
<ellipse cx="860" cy="426" rx="22" ry="6" fill="#b8b820" opacity="0.35" filter="url(#blur3)"/>
<clipPath id="pyrR5"><path d="M799.0,534.0 C801.0,531.2 805.0,530.0 811.0,529.5 C817.0,529.0 826.0,529.2 835.0,531.0 C844.0,532.8 858.5,536.5 865.0,540.0 C871.5,543.5 873.0,548.0 874.0,552.0 C875.0,556.0 873.5,559.0 871.0,564.0 C868.5,569.0 863.5,576.0 859.0,582.0 C854.5,588.0 848.0,596.5 844.0,600.0 C840.0,603.5 838.0,604.5 835.0,603.0 C832.0,601.5 830.0,597.0 826.0,591.0 C822.0,585.0 815.5,574.5 811.0,567.0 C806.5,559.5 801.0,551.5 799.0,546.0 C797.0,540.5 797.0,536.8 799.0,534.0Z"/></clipPath>
<path d="M799.0,534.0 C801.0,531.2 805.0,530.0 811.0,529.5 C817.0,529.0 826.0,529.2 835.0,531.0 C844.0,532.8 858.5,536.5 865.0,540.0 C871.5,543.5 873.0,548.0 874.0,552.0 C875.0,556.0 873.5,559.0 871.0,564.0 C868.5,569.0 863.5,576.0 859.0,582.0 C854.5,588.0 848.0,596.5 844.0,600.0 C840.0,603.5 838.0,604.5 835.0,603.0 C832.0,601.5 830.0,597.0 826.0,591.0 C822.0,585.0 815.5,574.5 811.0,567.0 C806.5,559.5 801.0,551.5 799.0,546.0 C797.0,540.5 797.0,536.8 799.0,534.0Z" fill="#6a3915"/>
<g clip-path="url(#pyrR5)" fill="none" stroke="#8a582a" stroke-width="1.0" opacity="1"><polyline points="811.9,530.9 814.8,531.0 817.7,531.1 820.6,531.4 823.5,531.8 826.3,532.2 829.2,532.8 832.1,533.4 834.9,534.0 837.8,534.8 840.6,535.6 843.4,536.4 846.3,537.3 849.1,538.2 851.9,539.1 854.6,540.1 857.4,541.2 860.1,542.3 862.8,543.6 865.4,545.0 867.8,546.7 870.0,548.8 871.7,551.2 873.0,553.8 874.0,556.6 877.1,564.8"/><polyline points="811.2,532.2 814.0,532.6 816.8,532.9 819.6,533.4 822.5,534.0 825.3,534.6 828.1,535.3 830.9,536.0 833.7,536.9 836.5,537.8 839.3,538.7 842.0,539.7 844.8,540.7 847.6,541.7 850.3,542.8 853.0,543.9 855.7,545.1 858.4,546.3 861.1,547.7 863.6,549.2 866.0,551.0 868.2,553.2 869.9,555.6 871.3,558.2 872.5,560.9 876.0,569.0"/><polyline points="810.3,533.8 813.0,534.3 815.7,534.9 818.4,535.6 821.2,536.4 823.9,537.2 826.6,538.1 829.3,539.0 832.0,540.0 834.7,541.1 837.4,542.2 840.1,543.4 842.7,544.5 845.4,545.8 848.1,547.0 850.7,548.3 853.3,549.6 855.9,551.0 858.5,552.5 861.0,554.2 863.3,556.1 865.4,558.2 867.2,560.7 868.6,563.4 869.9,566.0 873.7,574.0"/><polyline points="809.5,535.1 812.0,535.8 814.6,536.6 817.3,537.5 819.9,538.4 822.6,539.4 825.2,540.4 827.8,541.5 830.4,542.7 833.0,543.9 835.6,545.2 838.2,546.4 840.8,547.7 843.4,549.1 845.9,550.4 848.5,551.8 851.1,553.3 853.6,554.7 856.1,556.4 858.5,558.1 860.8,560.0 862.9,562.3 864.6,564.7 866.1,567.4 867.5,570.0 871.6,577.8"/><polyline points="808.6,536.4 811.0,537.3 813.5,538.3 816.1,539.4 818.6,540.4 821.2,541.6 823.7,542.8 826.2,544.0 828.8,545.3 831.3,546.6 833.8,548.0 836.3,549.4 838.7,550.8 841.2,552.3 843.7,553.8 846.2,555.3 848.7,556.8 851.1,558.4 853.5,560.1 855.9,561.9 858.1,563.9 860.2,566.2 861.9,568.7 863.5,571.3 864.9,573.8 869.3,581.4"/><polyline points="807.7,537.7 810.0,538.8 812.4,540.0 814.8,541.2 817.3,542.4 819.7,543.7 822.2,545.0 824.6,546.4 827.0,547.9 829.4,549.3 831.8,550.8 834.2,552.4 836.6,553.9 839.0,555.5 841.4,557.1 843.8,558.7 846.2,560.3 848.6,562.0 850.9,563.8 853.2,565.7 855.4,567.8 857.4,570.1 859.1,572.5 860.7,575.1 862.3,577.6 867.0,584.9"/><polyline points="806.7,539.1 808.9,540.5 811.1,541.9 813.4,543.3 815.7,544.7 818.0,546.2 820.4,547.7 822.7,549.2 825.0,550.8 827.3,552.5 829.5,554.1 831.8,555.8 834.1,557.5 836.4,559.2 838.7,561.0 840.9,562.7 843.2,564.5 845.5,566.3 847.7,568.2 849.9,570.2 852.0,572.4 853.9,574.7 855.6,577.2 857.2,579.8 858.8,582.2 863.7,589.5"/><polyline points="805.8,540.4 807.8,542.0 810.0,543.5 812.1,545.1 814.3,546.7 816.6,548.3 818.8,549.9 821.0,551.6 823.2,553.4 825.4,555.1 827.6,556.9 829.7,558.7 831.9,560.5 834.1,562.4 836.3,564.2 838.5,566.1 840.6,568.0 842.8,569.9 845.0,571.9 847.1,573.9 849.1,576.1 851.0,578.5 852.7,581.0 854.3,583.5 856.1,585.9 861.2,592.9"/><polyline points="804.8,541.7 806.8,543.4 808.8,545.1 810.9,546.9 813.0,548.6 815.1,550.4 817.2,552.2 819.3,554.0 821.4,555.9 823.5,557.8 825.6,559.7 827.6,561.6 829.7,563.5 831.8,565.5 833.9,567.4 836.0,569.4 838.1,571.4 840.1,573.4 842.2,575.5 844.3,577.6 846.2,579.8 848.0,582.2 849.8,584.7 851.4,587.2 853.2,589.5 858.7,596.3"/><polyline points="803.9,542.9 805.7,544.9 807.6,546.8 809.6,548.7 811.6,550.6 813.6,552.5 815.6,554.4 817.6,556.4 819.6,558.4 821.6,560.4 823.5,562.4 825.5,564.4 827.5,566.5 829.5,568.6 831.5,570.6 833.5,572.7 835.4,574.8 837.4,576.9 839.4,579.0 841.4,581.2 843.3,583.5 845.0,585.9 846.7,588.4 848.4,590.9 850.3,593.1 856.0,599.7"/><polyline points="803.0,544.2 804.6,546.3 806.4,548.4 808.2,550.4 810.1,552.5 812.0,554.5 813.9,556.6 815.8,558.7 817.7,560.8 819.6,562.9 821.4,565.1 823.3,567.3 825.2,569.4 827.1,571.6 829.0,573.7 830.8,575.9 832.7,578.1 834.6,580.3 836.5,582.5 838.4,584.8 840.2,587.1 841.9,589.6 843.6,592.1 845.3,594.5 847.3,596.6 853.3,603.0"/><polyline points="801.8,545.5 803.3,547.8 804.9,550.1 806.6,552.3 808.3,554.5 810.1,556.8 811.8,559.0 813.6,561.2 815.3,563.5 817.1,565.8 818.8,568.1 820.5,570.4 822.2,572.7 824.0,574.9 825.7,577.2 827.5,579.5 829.2,581.8 831.0,584.1 832.8,586.5 834.5,588.8 836.2,591.2 837.9,593.7 839.5,596.2 841.2,598.6 843.2,600.6 849.3,606.8"/><polyline points="800.7,546.6 802.1,549.1 803.5,551.5 805.1,553.8 806.7,556.2 808.3,558.5 809.9,560.8 811.5,563.2 813.1,565.5 814.7,567.9 816.3,570.3 817.9,572.7 819.5,575.0 821.1,577.4 822.7,579.8 824.3,582.1 825.9,584.5 827.6,586.9 829.2,589.2 830.9,591.6 832.5,594.0 834.0,596.5 835.6,598.9 837.3,601.3 839.4,603.2 845.7,609.1"/></g>
<path d="M799.0,534.0 C801.0,531.2 805.0,530.0 811.0,529.5 C817.0,529.0 826.0,529.2 835.0,531.0 C844.0,532.8 858.5,536.5 865.0,540.0 C871.5,543.5 873.0,548.0 874.0,552.0 C875.0,556.0 873.5,559.0 871.0,564.0 C868.5,569.0 863.5,576.0 859.0,582.0 C854.5,588.0 848.0,596.5 844.0,600.0 C840.0,603.5 838.0,604.5 835.0,603.0 C832.0,601.5 830.0,597.0 826.0,591.0 C822.0,585.0 815.5,574.5 811.0,567.0 C806.5,559.5 801.0,551.5 799.0,546.0 C797.0,540.5 797.0,536.8 799.0,534.0Z" fill="none" stroke="#5a2c0c" stroke-width="3" clip-path="url(#pyrR5)" opacity="0.75" filter="url(#blur1)"/>
<clipPath id="pyrR6"><path d="M754.0,535.5 C758.0,534.2 765.0,533.2 769.0,535.5 C773.0,537.8 775.0,542.2 778.0,549.0 C781.0,555.8 785.0,567.5 787.0,576.0 C789.0,584.5 791.0,595.0 790.0,600.0 C789.0,605.0 787.0,605.2 781.0,606.0 C775.0,606.8 762.0,607.0 754.0,604.5 C746.0,602.0 737.2,595.8 733.0,591.0 C728.8,586.2 728.0,581.5 728.5,576.0 C729.0,570.5 733.2,563.5 736.0,558.0 C738.8,552.5 742.0,546.8 745.0,543.0 C748.0,539.2 750.0,536.8 754.0,535.5Z"/></clipPath>
<path d="M754.0,535.5 C758.0,534.2 765.0,533.2 769.0,535.5 C773.0,537.8 775.0,542.2 778.0,549.0 C781.0,555.8 785.0,567.5 787.0,576.0 C789.0,584.5 791.0,595.0 790.0,600.0 C789.0,605.0 787.0,605.2 781.0,606.0 C775.0,606.8 762.0,607.0 754.0,604.5 C746.0,602.0 737.2,595.8 733.0,591.0 C728.8,586.2 728.0,581.5 728.5,576.0 C729.0,570.5 733.2,563.5 736.0,558.0 C738.8,552.5 742.0,546.8 745.0,543.0 C748.0,539.2 750.0,536.8 754.0,535.5Z" fill="#6a3915"/>
<g clip-path="url(#pyrR6)" fill="none" stroke="#8a582a" stroke-width="1.0" opacity="1"><polyline points="767.1,536.7 769.4,538.4 771.2,540.7 772.6,543.3 773.9,546.0 775.0,548.8 776.1,551.6 777.2,554.4 778.2,557.3 779.1,560.1 780.0,563.0 780.9,565.9 781.7,568.8 782.5,571.7 783.3,574.6 784.0,577.6 784.6,580.5 785.2,583.5 785.8,586.5 786.3,589.5 786.8,592.5 787.1,595.5 787.4,598.5 787.6,601.6 787.4,604.6 786.8,613.7"/><polyline points="765.4,537.6 767.4,539.4 769.0,541.7 770.2,544.3 771.3,547.1 772.2,549.9 773.2,552.7 774.0,555.5 774.9,558.4 775.6,561.2 776.4,564.1 777.1,567.0 777.8,569.9 778.4,572.9 779.1,575.8 779.6,578.8 780.1,581.7 780.6,584.7 781.0,587.7 781.4,590.7 781.8,593.7 782.0,596.7 782.2,599.8 782.3,602.8 782.1,605.9 781.4,615.0"/><polyline points="763.5,538.3 765.2,540.2 766.4,542.6 767.4,545.2 768.2,547.9 768.9,550.7 769.6,553.5 770.3,556.3 770.9,559.1 771.4,562.0 772.0,564.9 772.5,567.8 773.0,570.7 773.4,573.6 773.8,576.5 774.2,579.5 774.5,582.4 774.8,585.4 775.1,588.3 775.3,591.3 775.5,594.3 775.6,597.3 775.6,600.3 775.6,603.4 775.3,606.4 774.3,615.5"/><polyline points="761.8,539.0 763.2,540.9 764.2,543.3 764.9,545.9 765.5,548.6 766.1,551.3 766.6,554.1 767.0,556.9 767.5,559.7 767.9,562.5 768.2,565.4 768.6,568.3 768.9,571.1 769.2,574.0 769.5,576.9 769.7,579.8 769.9,582.7 770.0,585.6 770.2,588.6 770.3,591.5 770.3,594.5 770.3,597.5 770.3,600.5 770.2,603.5 769.8,606.5 768.7,615.5"/><polyline points="760.1,539.6 761.2,541.6 762.0,543.9 762.5,546.5 762.9,549.2 763.2,551.9 763.5,554.6 763.8,557.4 764.1,560.1 764.3,562.9 764.5,565.7 764.7,568.6 764.9,571.4 765.0,574.2 765.2,577.1 765.2,580.0 765.3,582.8 765.3,585.7 765.3,588.6 765.2,591.5 765.2,594.4 765.1,597.3 765.0,600.3 764.8,603.3 764.4,606.2 763.1,615.2"/><polyline points="758.5,540.2 759.2,542.1 759.7,544.5 760.0,547.0 760.2,549.6 760.4,552.3 760.5,555.0 760.6,557.7 760.7,560.4 760.8,563.1 760.8,565.9 760.9,568.7 760.9,571.4 760.9,574.2 760.8,577.0 760.8,579.8 760.7,582.6 760.5,585.5 760.4,588.3 760.2,591.1 760.1,594.0 759.9,596.9 759.6,599.8 759.4,602.7 758.9,605.6 757.6,614.4"/><polyline points="756.6,540.5 757.0,542.5 757.2,544.8 757.3,547.2 757.2,549.7 757.1,552.3 757.0,554.9 756.9,557.5 756.8,560.2 756.7,562.8 756.5,565.5 756.3,568.2 756.2,570.8 756.0,573.5 755.8,576.2 755.5,578.9 755.2,581.7 754.9,584.4 754.6,587.1 754.3,589.9 753.9,592.6 753.6,595.4 753.2,598.2 752.9,601.0 752.3,603.9 750.8,612.4"/><polyline points="755.0,540.8 755.1,542.7 755.1,544.9 754.9,547.3 754.7,549.7 754.4,552.2 754.2,554.7 753.9,557.2 753.6,559.7 753.3,562.2 753.0,564.8 752.7,567.4 752.4,570.0 752.1,572.5 751.7,575.1 751.3,577.7 750.9,580.3 750.5,582.9 750.1,585.6 749.6,588.2 749.2,590.8 748.8,593.5 748.3,596.2 747.9,598.9 747.4,601.7 745.7,609.8"/><polyline points="753.4,541.0 753.3,542.9 753.0,545.0 752.7,547.2 752.3,549.5 751.8,551.8 751.4,554.2 751.0,556.6 750.6,559.0 750.1,561.4 749.7,563.9 749.2,566.3 748.8,568.8 748.3,571.2 747.9,573.7 747.3,576.2 746.8,578.6 746.3,581.1 745.8,583.6 745.2,586.1 744.7,588.6 744.2,591.2 743.7,593.7 743.2,596.3 742.6,598.9 740.9,606.7"/><polyline points="751.9,541.1 751.5,542.9 751.1,544.9 750.5,547.0 749.9,549.2 749.3,551.4 748.8,553.6 748.2,555.9 747.6,558.1 747.1,560.4 746.5,562.7 745.9,565.0 745.4,567.3 744.8,569.6 744.2,572.0 743.6,574.3 742.9,576.6 742.3,578.9 741.7,581.3 741.0,583.6 740.4,586.0 739.8,588.4 739.3,590.8 738.8,593.3 738.2,595.8 736.5,603.1"/><polyline points="750.4,541.1 749.8,542.9 749.2,544.7 748.4,546.7 747.7,548.7 747.0,550.8 746.3,552.8 745.5,554.9 744.9,557.0 744.2,559.2 743.5,561.3 742.8,563.4 742.1,565.6 741.4,567.8 740.7,569.9 740.0,572.1 739.3,574.2 738.6,576.4 737.9,578.6 737.2,580.8 736.5,583.0 735.8,585.3 735.2,587.5 734.7,589.8 734.1,592.1 732.4,599.0"/><polyline points="749.0,540.8 748.1,542.4 747.3,544.1 746.4,545.9 745.5,547.7 744.6,549.5 743.8,551.4 742.9,553.2 742.1,555.1 741.3,557.0 740.5,558.9 739.7,560.9 738.9,562.8 738.1,564.7 737.3,566.7 736.5,568.6 735.7,570.6 734.9,572.5 734.1,574.5 733.3,576.5 732.6,578.4 731.9,580.5 731.2,582.5 730.6,584.6 730.1,586.7 728.4,592.9"/><polyline points="748.0,540.6 747.0,542.0 746.0,543.6 745.0,545.1 744.0,546.7 743.1,548.3 742.2,550.0 741.3,551.6 740.5,553.3 739.6,555.0 738.8,556.7 738.0,558.4 737.2,560.2 736.4,561.9 735.6,563.6 734.7,565.3 733.9,567.1 733.1,568.8 732.3,570.5 731.5,572.3 730.8,574.1 730.1,575.9 729.5,577.7 729.0,579.6 728.5,581.5 727.2,587.1"/></g>
<path d="M754.0,535.5 C758.0,534.2 765.0,533.2 769.0,535.5 C773.0,537.8 775.0,542.2 778.0,549.0 C781.0,555.8 785.0,567.5 787.0,576.0 C789.0,584.5 791.0,595.0 790.0,600.0 C789.0,605.0 787.0,605.2 781.0,606.0 C775.0,606.8 762.0,607.0 754.0,604.5 C746.0,602.0 737.2,595.8 733.0,591.0 C728.8,586.2 728.0,581.5 728.5,576.0 C729.0,570.5 733.2,563.5 736.0,558.0 C738.8,552.5 742.0,546.8 745.0,543.0 C748.0,539.2 750.0,536.8 754.0,535.5Z" fill="none" stroke="#5a2c0c" stroke-width="3" clip-path="url(#pyrR6)" opacity="0.75" filter="url(#blur1)"/>
<ellipse cx="728.7" cy="265.5" rx="2.6" ry="2.2" fill="#1a1cec" stroke="#9890f0" stroke-opacity="0.5" stroke-width="0.8"/>
<ellipse cx="784.0" cy="253.0" rx="1.6" ry="1.6" fill="#cc160c" stroke="#f07050" stroke-opacity="0.5" stroke-width="0.8"/>
<ellipse cx="798.0" cy="246.2" rx="2.6" ry="2.2" fill="#1a1cec" stroke="#9890f0" stroke-opacity="0.5" stroke-width="0.8"/>
<ellipse cx="828.7" cy="264.5" rx="2.6" ry="2.2" fill="#1a1cec" stroke="#9890f0" stroke-opacity="0.5" stroke-width="0.8"/>
<ellipse cx="818.0" cy="272.0" rx="2" ry="1.8" fill="#cc160c" stroke="#f07050" stroke-opacity="0.5" stroke-width="0.8"/>
<ellipse cx="853.3" cy="304.8" rx="3.2" ry="3.6" fill="#1a1cec" stroke="#9890f0" stroke-opacity="0.5" stroke-width="0.8"/>
<ellipse cx="879.8" cy="308.5" rx="2.2" ry="1.6" fill="#cc160c" stroke="#f07050" stroke-opacity="0.5" stroke-width="0.8"/>
<ellipse cx="868.5" cy="320.4" rx="4.6" ry="5.4" fill="#cc160c" stroke="#f07050" stroke-opacity="0.5" stroke-width="0.8"/>
<ellipse cx="881.1" cy="344.8" rx="4.6" ry="5.4" fill="#1a1cec" stroke="#9890f0" stroke-opacity="0.5" stroke-width="0.8"/>
<ellipse cx="909.7" cy="376.7" rx="2.6" ry="2.4" fill="#1a1cec" stroke="#9890f0" stroke-opacity="0.5" stroke-width="0.8"/>
<ellipse cx="909.2" cy="394.0" rx="2" ry="2.2" fill="#cc160c" stroke="#f07050" stroke-opacity="0.5" stroke-width="0.8"/>
<ellipse cx="922.7" cy="431.3" rx="2.4" ry="2.2" fill="#1a1cec" stroke="#9890f0" stroke-opacity="0.5" stroke-width="0.8"/>
<ellipse cx="916.7" cy="449.5" rx="2.6" ry="2.2" fill="#1a1cec" stroke="#9890f0" stroke-opacity="0.5" stroke-width="0.8"/>
<ellipse cx="890.5" cy="549.4" rx="2" ry="2" fill="#cc160c" stroke="#f07050" stroke-opacity="0.5" stroke-width="0.8"/>
<ellipse cx="887.5" cy="580.0" rx="4.6" ry="5.4" fill="#cc160c" stroke="#f07050" stroke-opacity="0.5" stroke-width="0.8"/>
<ellipse cx="732.0" cy="590.5" rx="2.4" ry="2.4" fill="#1a1cec" stroke="#9890f0" stroke-opacity="0.5" stroke-width="0.8"/>
<ellipse cx="800.5" cy="589.6" rx="1.6" ry="1.6" fill="#cc160c" stroke="#f07050" stroke-opacity="0.5" stroke-width="0.8"/>
<ellipse cx="818.5" cy="592.0" rx="2.4" ry="2" fill="#1a1cec" stroke="#9890f0" stroke-opacity="0.5" stroke-width="0.8"/>
<ellipse cx="863.5" cy="594.0" rx="4.6" ry="5" fill="#1a1cec" stroke="#9890f0" stroke-opacity="0.5" stroke-width="0.8"/>
<ellipse cx="870.0" cy="611.5" rx="2.6" ry="2.2" fill="#1a1cec" stroke="#9890f0" stroke-opacity="0.5" stroke-width="0.8"/>
<ellipse cx="742.0" cy="602.5" rx="1.6" ry="1.6" fill="#cc160c" stroke="#f07050" stroke-opacity="0.5" stroke-width="0.8"/>
<ellipse cx="749.5" cy="618.0" rx="2.6" ry="2.2" fill="#1a1cec" stroke="#9890f0" stroke-opacity="0.5" stroke-width="0.8"/>
<ellipse cx="769.6" cy="622.6" rx="2.2" ry="1.8" fill="#cc160c" stroke="#f07050" stroke-opacity="0.5" stroke-width="0.8"/>
<ellipse cx="811.6" cy="629.0" rx="2" ry="2" fill="#cc160c" stroke="#f07050" stroke-opacity="0.5" stroke-width="0.8"/>
<text x="377.5" y="236" font-size="21.5" fill="#0a0a0a" textLength="63.5" lengthAdjust="spacingAndGlyphs">Cortex</text>
<line x1="374" y1="239.5" x2="332.5" y2="265.5" stroke="#111" stroke-width="1.4"/><circle cx="332.5" cy="265.5" r="3.2" fill="#111"/>
<text x="415.5" y="300" font-size="21.5" fill="#0a0a0a" textLength="79.5" lengthAdjust="spacingAndGlyphs">Pyramid</text>
<line x1="407.5" y1="296" x2="343.7" y2="323" stroke="#111" stroke-width="1.4"/><circle cx="343.7" cy="323" r="3.2" fill="#111"/>
<text x="60" y="338.7" font-size="21.5" fill="#0a0a0a" textLength="56" lengthAdjust="spacingAndGlyphs">Major</text>
<text x="60" y="361" font-size="21.5" fill="#0a0a0a" textLength="69" lengthAdjust="spacingAndGlyphs">calyces</text>
<line x1="135" y1="345" x2="238" y2="374" stroke="#111" stroke-width="1.4"/><circle cx="238" cy="374" r="3.2" fill="#111"/>
<text x="34" y="405" font-size="21.5" fill="#0a0a0a" textLength="52" lengthAdjust="spacingAndGlyphs">Renal</text>
<text x="34" y="428" font-size="21.5" fill="#0a0a0a" textLength="55" lengthAdjust="spacingAndGlyphs">pelvis</text>
<line x1="101" y1="416" x2="171" y2="453" stroke="#111" stroke-width="1.4"/><circle cx="171" cy="453" r="3.2" fill="#111"/>
<text x="467.5" y="523" font-size="21.5" fill="#0a0a0a" textLength="57.5" lengthAdjust="spacingAndGlyphs">Minor</text>
<text x="467.5" y="546" font-size="21.5" fill="#0a0a0a" textLength="68.5" lengthAdjust="spacingAndGlyphs">calyces</text>
<polyline points="303,486 462.5,528.7 295,528.7" fill="none" stroke="#111" stroke-width="1.4"/><circle cx="303" cy="486" r="3.2" fill="#111"/><circle cx="295" cy="528.7" r="3.2" fill="#111"/>
<text x="36" y="625.5" font-size="21.5" fill="#0a0a0a" textLength="61" lengthAdjust="spacingAndGlyphs">Ureter</text>
<line x1="113.7" y1="620.5" x2="167.5" y2="629.5" stroke="#111" stroke-width="1.4"/><circle cx="167.5" cy="629.5" r="3.2" fill="#111"/>
<text x="199" y="738.7" font-size="26.5" font-weight="bold" fill="#0a0a0a" textLength="188" lengthAdjust="spacingAndGlyphs">Normal kidney</text>
<text x="728.5" y="738.7" font-size="26.5" font-weight="bold" fill="#0a0a0a" textLength="185.5" lengthAdjust="spacingAndGlyphs">Pyelonephritis</text>
<text x="697" y="197" font-size="21.5" fill="#0a0a0a" textLength="131" lengthAdjust="spacingAndGlyphs">Inflammation</text>
<line x1="761" y1="209.5" x2="781" y2="275.5" stroke="#111" stroke-width="1.4"/><circle cx="781" cy="275.5" r="3.2" fill="#111"/>
<text x="580.5" y="273.7" font-size="21.5" fill="#0a0a0a" textLength="79.5" lengthAdjust="spacingAndGlyphs">Scarring</text>
<line x1="673" y1="271" x2="715.5" y2="310" stroke="#111" stroke-width="1.4"/><circle cx="715.5" cy="310" r="3.2" fill="#111"/>
<text x="933.7" y="312" font-size="21.5" fill="#0a0a0a" textLength="33.3" lengthAdjust="spacingAndGlyphs">Pus</text>
<line x1="928" y1="316" x2="877" y2="381" stroke="#111" stroke-width="1.4"/><circle cx="877" cy="381" r="3.2" fill="#111"/>
<text x="565" y="395" font-size="21.5" fill="#0a0a0a" textLength="77.5" lengthAdjust="spacingAndGlyphs">Atrophy</text>
<text x="565" y="418" font-size="21.5" fill="#0a0a0a" textLength="85" lengthAdjust="spacingAndGlyphs">of cortex</text>
<line x1="655" y1="398" x2="702.5" y2="389.5" stroke="#111" stroke-width="1.4"/><circle cx="702.5" cy="389.5" r="3.2" fill="#111"/>
</svg></body></html>
